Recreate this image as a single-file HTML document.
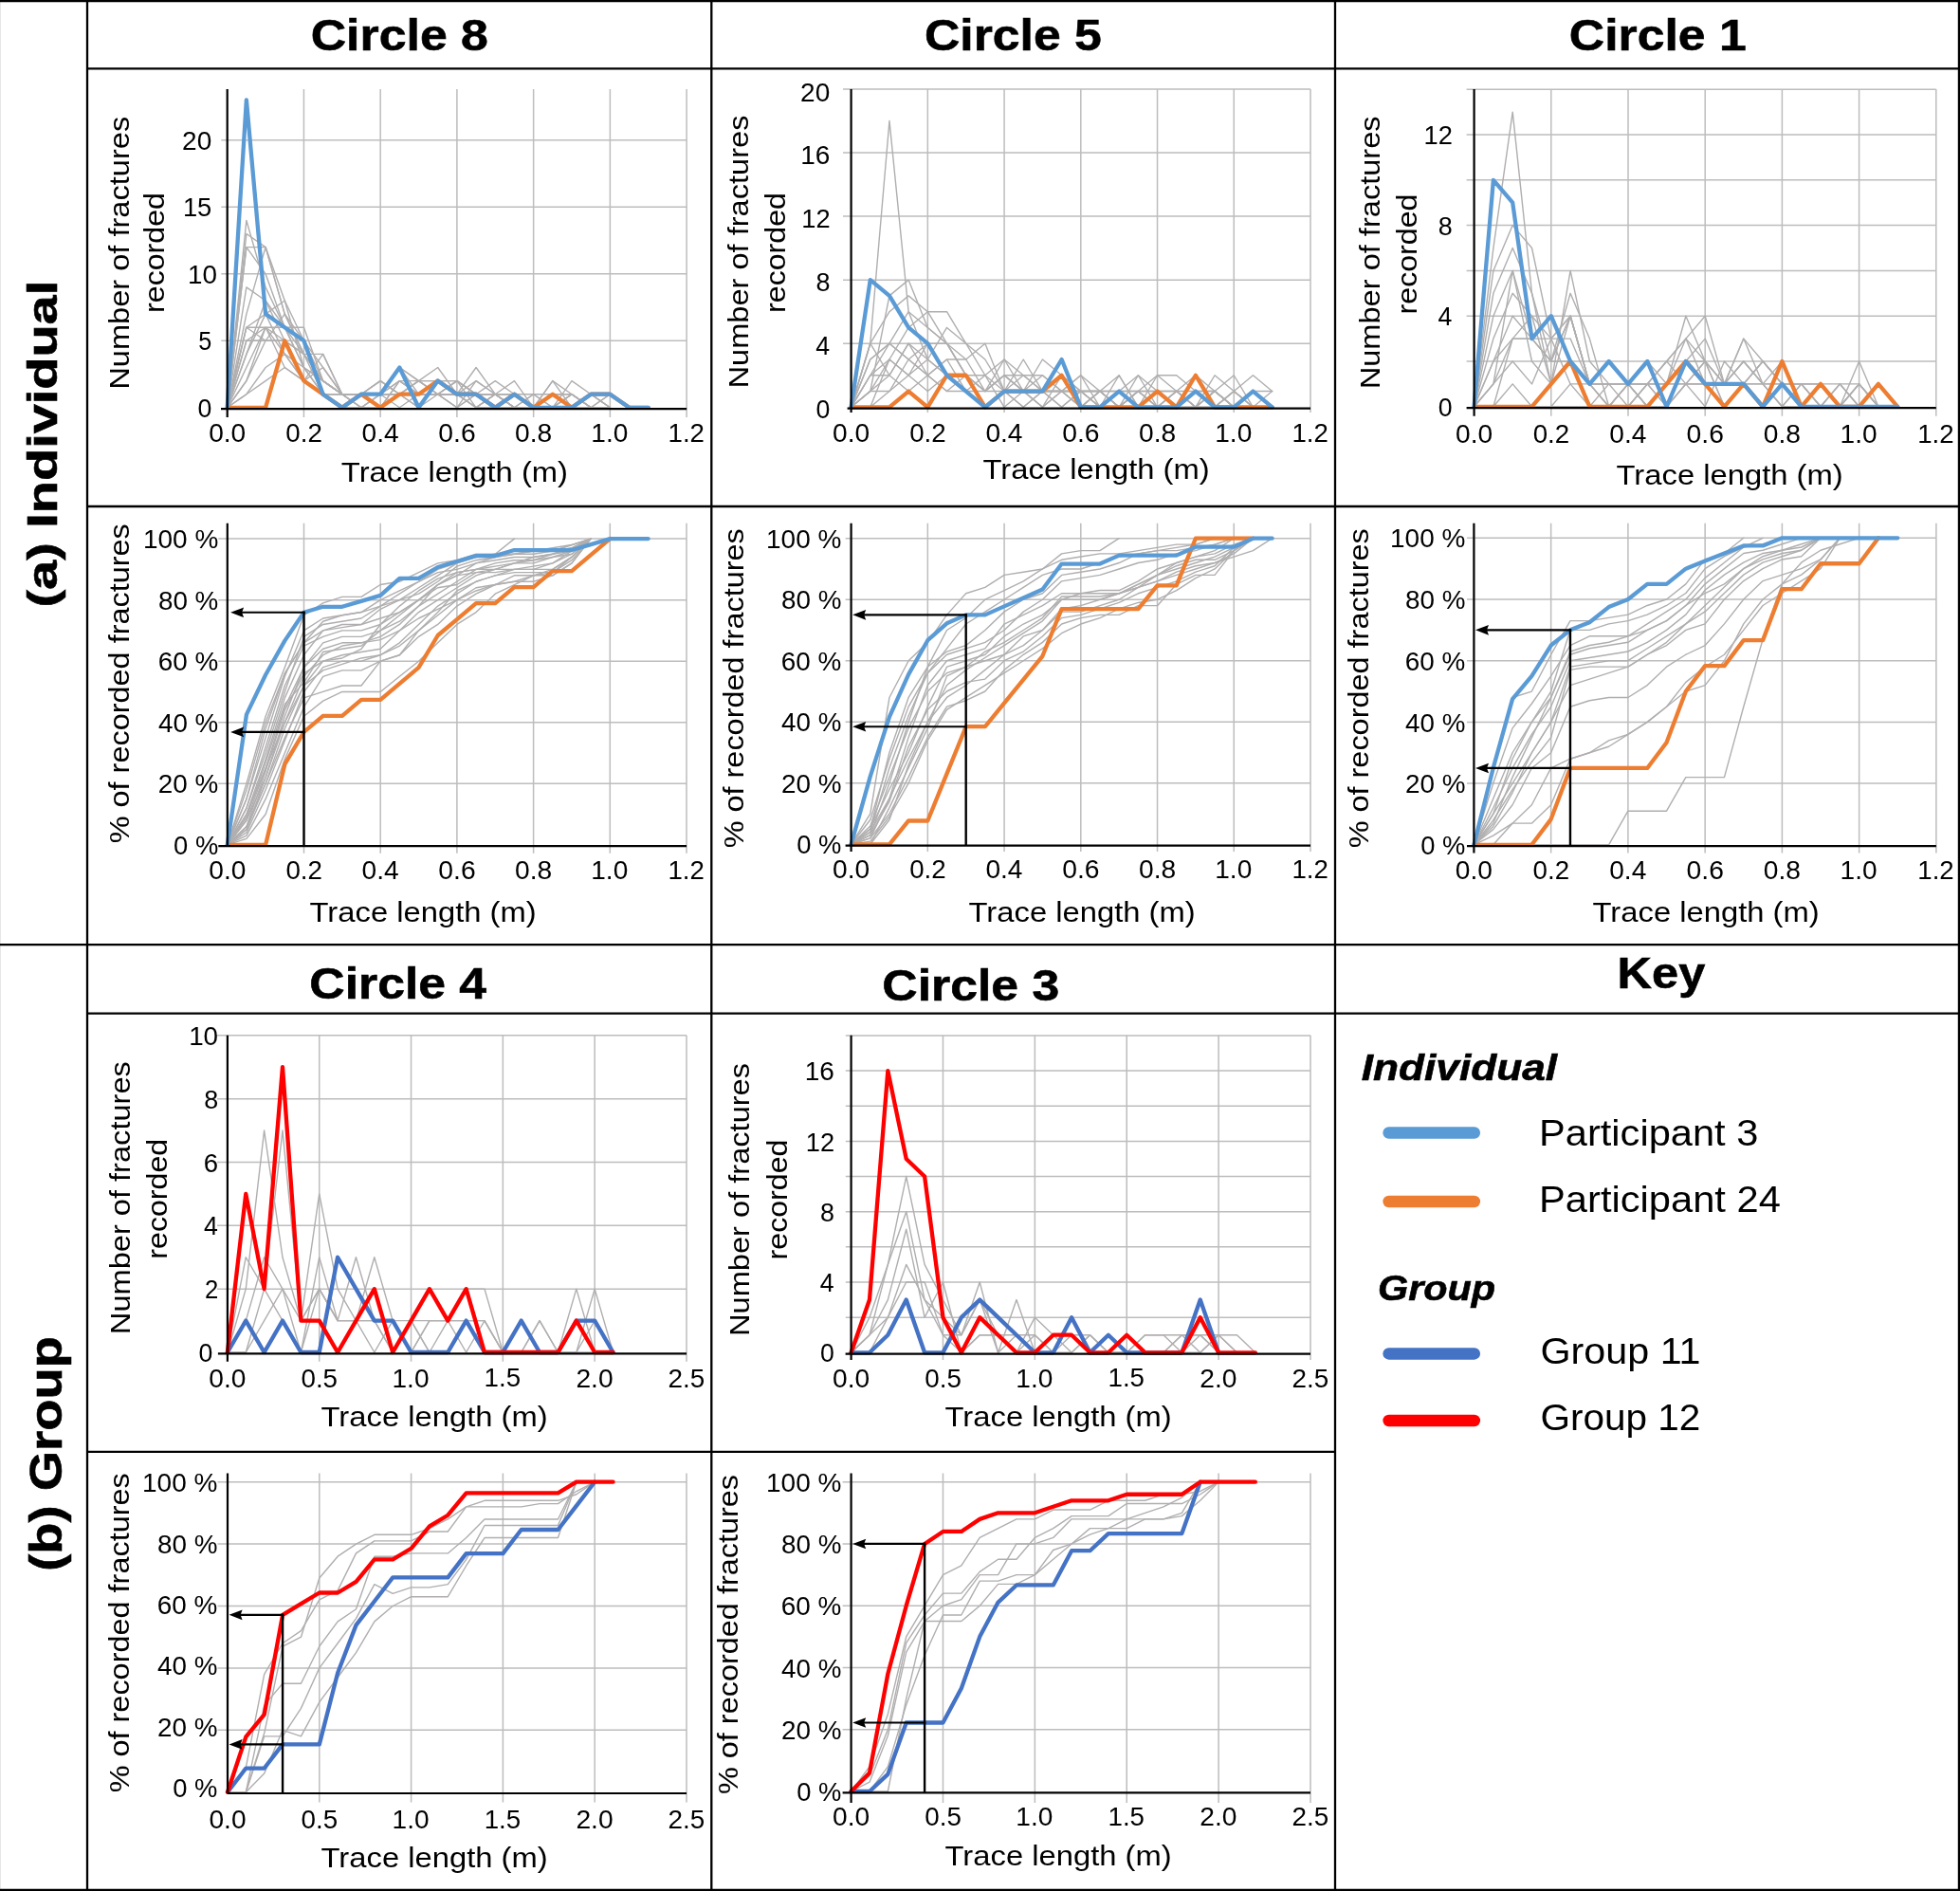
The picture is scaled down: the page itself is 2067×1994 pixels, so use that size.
<!DOCTYPE html>
<html><head><meta charset="utf-8"><title>Fracture trace length figure</title>
<style>html,body{margin:0;padding:0;background:#fff;overflow:hidden;}svg{display:block;will-change:transform;}text{font-family:"Liberation Sans", sans-serif;}</style>
</head><body>
<svg width="2067" height="1994" viewBox="0 0 2067 1994" font-family='"Liberation Sans", sans-serif' fill="#000"><rect x="0" y="0" width="2067" height="1994" fill="#fff"/>
<line x1="0.5" y1="0" x2="0.5" y2="1994" stroke="#e6e6e6" stroke-width="1" stroke-linecap="butt"/>
<line x1="0" y1="1" x2="2067" y2="1" stroke="#000" stroke-width="2.6" stroke-linecap="butt"/>
<line x1="0" y1="1993" x2="2067" y2="1993" stroke="#000" stroke-width="2.6" stroke-linecap="butt"/>
<line x1="2066" y1="0" x2="2066" y2="1994" stroke="#000" stroke-width="2.4" stroke-linecap="butt"/>
<line x1="92" y1="0" x2="92" y2="1994" stroke="#000" stroke-width="2.3" stroke-linecap="butt"/>
<line x1="750.3" y1="0" x2="750.3" y2="1994" stroke="#000" stroke-width="2.3" stroke-linecap="butt"/>
<line x1="1408" y1="0" x2="1408" y2="1994" stroke="#000" stroke-width="2.3" stroke-linecap="butt"/>
<line x1="92" y1="72.3" x2="2067" y2="72.3" stroke="#000" stroke-width="2.3" stroke-linecap="butt"/>
<line x1="92" y1="534" x2="2067" y2="534" stroke="#000" stroke-width="2.3" stroke-linecap="butt"/>
<line x1="0" y1="996.2" x2="2067" y2="996.2" stroke="#000" stroke-width="2.3" stroke-linecap="butt"/>
<line x1="92" y1="1068.7" x2="2067" y2="1068.7" stroke="#000" stroke-width="2.3" stroke-linecap="butt"/>
<line x1="92" y1="1530.8" x2="1408" y2="1530.8" stroke="#000" stroke-width="2.3" stroke-linecap="butt"/>
<line x1="233.3" y1="359.3" x2="724.1" y2="359.3" stroke="#bdbdbd" stroke-width="1.5" stroke-linecap="butt"/>
<line x1="233.3" y1="288.8" x2="724.1" y2="288.8" stroke="#bdbdbd" stroke-width="1.5" stroke-linecap="butt"/>
<line x1="233.3" y1="218.3" x2="724.1" y2="218.3" stroke="#bdbdbd" stroke-width="1.5" stroke-linecap="butt"/>
<line x1="233.3" y1="147.8" x2="724.1" y2="147.8" stroke="#bdbdbd" stroke-width="1.5" stroke-linecap="butt"/>
<line x1="320.43" y1="94" x2="320.43" y2="440.1" stroke="#bdbdbd" stroke-width="1.5" stroke-linecap="butt"/>
<line x1="401.17" y1="94" x2="401.17" y2="440.1" stroke="#bdbdbd" stroke-width="1.5" stroke-linecap="butt"/>
<line x1="481.9" y1="94" x2="481.9" y2="440.1" stroke="#bdbdbd" stroke-width="1.5" stroke-linecap="butt"/>
<line x1="562.63" y1="94" x2="562.63" y2="440.1" stroke="#bdbdbd" stroke-width="1.5" stroke-linecap="butt"/>
<line x1="643.37" y1="94" x2="643.37" y2="440.1" stroke="#bdbdbd" stroke-width="1.5" stroke-linecap="butt"/>
<line x1="724.1" y1="94" x2="724.1" y2="440.1" stroke="#bdbdbd" stroke-width="1.5" stroke-linecap="butt"/>
<polyline points="239.7,429.8 259.88,232.4 280.07,302.9 300.25,345.2 320.43,373.4 340.62,401.6 360.8,415.7 380.98,415.7 401.17,401.6 421.35,415.7 441.53,415.7 461.72,415.7 481.9,429.8 502.08,415.7 522.27,429.8 542.45,429.8 562.63,429.8 582.82,429.8 603,415.7 623.18,429.8 643.37,415.7 663.55,429.8" fill="none" stroke="#b0aeae" stroke-width="1.4" stroke-linejoin="round" stroke-linecap="round"/>
<polyline points="239.7,429.8 259.88,246.5 280.07,260.6 300.25,317 320.43,387.5 340.62,415.7 360.8,429.8 380.98,415.7 401.17,429.8 421.35,401.6 441.53,415.7 461.72,415.7 481.9,401.6 502.08,429.8 522.27,415.7 542.45,415.7 562.63,429.8 582.82,415.7 603,429.8 623.18,415.7 643.37,429.8" fill="none" stroke="#b0aeae" stroke-width="1.4" stroke-linejoin="round" stroke-linecap="round"/>
<polyline points="239.7,429.8 259.88,260.6 280.07,260.6 300.25,331.1 320.43,359.3 340.62,387.5 360.8,415.7 380.98,429.8 401.17,415.7 421.35,387.5 441.53,401.6 461.72,415.7 481.9,415.7 502.08,429.8 522.27,415.7 542.45,429.8 562.63,429.8 582.82,401.6 603,415.7 623.18,429.8 643.37,429.8" fill="none" stroke="#b0aeae" stroke-width="1.4" stroke-linejoin="round" stroke-linecap="round"/>
<polyline points="239.7,429.8 259.88,260.6 280.07,288.8 300.25,345.2 320.43,345.2 340.62,401.6 360.8,415.7 380.98,415.7 401.17,415.7 421.35,415.7 441.53,401.6 461.72,387.5 481.9,415.7 502.08,415.7 522.27,401.6 542.45,415.7 562.63,429.8 582.82,429.8 603,415.7 623.18,429.8 643.37,415.7 663.55,429.8" fill="none" stroke="#b0aeae" stroke-width="1.4" stroke-linejoin="round" stroke-linecap="round"/>
<polyline points="239.7,429.8 259.88,302.9 280.07,317 300.25,359.3 320.43,373.4 340.62,373.4 360.8,415.7 380.98,429.8 401.17,429.8 421.35,401.6 441.53,401.6 461.72,401.6 481.9,415.7 502.08,387.5 522.27,415.7 542.45,415.7 562.63,429.8 582.82,415.7 603,429.8 623.18,415.7 643.37,429.8" fill="none" stroke="#b0aeae" stroke-width="1.4" stroke-linejoin="round" stroke-linecap="round"/>
<polyline points="239.7,429.8 259.88,345.2 280.07,331.1 300.25,317 320.43,359.3 340.62,401.6 360.8,415.7 380.98,415.7 401.17,415.7 421.35,387.5 441.53,415.7 461.72,401.6 481.9,401.6 502.08,415.7 522.27,415.7 542.45,401.6 562.63,429.8 582.82,429.8 603,401.6 623.18,415.7 643.37,429.8" fill="none" stroke="#b0aeae" stroke-width="1.4" stroke-linejoin="round" stroke-linecap="round"/>
<polyline points="239.7,429.8 259.88,345.2 280.07,345.2 300.25,359.3 320.43,401.6 340.62,415.7 360.8,429.8 380.98,415.7 401.17,401.6 421.35,415.7 441.53,429.8 461.72,401.6 481.9,401.6 502.08,415.7 522.27,429.8 542.45,415.7 562.63,429.8 582.82,415.7 603,415.7 623.18,429.8 643.37,429.8" fill="none" stroke="#b0aeae" stroke-width="1.4" stroke-linejoin="round" stroke-linecap="round"/>
<polyline points="239.7,429.8 259.88,359.3 280.07,345.2 300.25,373.4 320.43,387.5 340.62,401.6 360.8,415.7 380.98,415.7 401.17,415.7 421.35,401.6 441.53,415.7 461.72,415.7 481.9,429.8 502.08,401.6 522.27,415.7 542.45,429.8 562.63,415.7 582.82,415.7 603,429.8 623.18,429.8" fill="none" stroke="#b0aeae" stroke-width="1.4" stroke-linejoin="round" stroke-linecap="round"/>
<polyline points="239.7,429.8 259.88,359.3 280.07,359.3 300.25,359.3 320.43,401.6 340.62,415.7 360.8,429.8 380.98,429.8 401.17,429.8 421.35,415.7 441.53,415.7 461.72,415.7 481.9,401.6 502.08,415.7 522.27,415.7 542.45,429.8 562.63,429.8 582.82,429.8 603,415.7 623.18,429.8" fill="none" stroke="#b0aeae" stroke-width="1.4" stroke-linejoin="round" stroke-linecap="round"/>
<polyline points="239.7,429.8 259.88,373.4 280.07,331.1 300.25,373.4 320.43,401.6 340.62,387.5 360.8,415.7 380.98,415.7 401.17,415.7 421.35,415.7 441.53,401.6 461.72,415.7 481.9,415.7 502.08,429.8 522.27,429.8 542.45,415.7 562.63,429.8 582.82,429.8 603,429.8 623.18,415.7 643.37,429.8" fill="none" stroke="#b0aeae" stroke-width="1.4" stroke-linejoin="round" stroke-linecap="round"/>
<polyline points="239.7,429.8 259.88,387.5 280.07,345.2 300.25,345.2 320.43,387.5 340.62,415.7 360.8,415.7 380.98,429.8 401.17,415.7 421.35,429.8 441.53,415.7 461.72,401.6 481.9,415.7 502.08,415.7 522.27,415.7 542.45,429.8 562.63,429.8 582.82,401.6 603,429.8 623.18,429.8" fill="none" stroke="#b0aeae" stroke-width="1.4" stroke-linejoin="round" stroke-linecap="round"/>
<polyline points="239.7,429.8 259.88,401.6 280.07,359.3 300.25,359.3 320.43,373.4 340.62,401.6 360.8,415.7 380.98,415.7 401.17,429.8 421.35,415.7 441.53,401.6 461.72,415.7 481.9,429.8 502.08,415.7 522.27,429.8 542.45,415.7 562.63,415.7 582.82,429.8" fill="none" stroke="#b0aeae" stroke-width="1.4" stroke-linejoin="round" stroke-linecap="round"/>
<polyline points="239.7,429.8 259.88,415.7 280.07,387.5 300.25,373.4 320.43,401.6 340.62,415.7 360.8,415.7 380.98,415.7 401.17,415.7 421.35,401.6 441.53,415.7 461.72,415.7 481.9,415.7 502.08,429.8 522.27,415.7 542.45,429.8 562.63,429.8 582.82,415.7 603,429.8" fill="none" stroke="#b0aeae" stroke-width="1.4" stroke-linejoin="round" stroke-linecap="round"/>
<polyline points="239.7,429.8 259.88,415.7 280.07,401.6 300.25,387.5 320.43,401.6 340.62,415.7 360.8,429.8 380.98,415.7 401.17,415.7 421.35,415.7 441.53,415.7 461.72,415.7 481.9,415.7 502.08,415.7 522.27,415.7 542.45,415.7 562.63,429.8 582.82,415.7 603,429.8" fill="none" stroke="#b0aeae" stroke-width="1.4" stroke-linejoin="round" stroke-linecap="round"/>
<polyline points="239.7,429.8 259.88,331.1 280.07,260.6 300.25,331.1 320.43,373.4 340.62,401.6 360.8,415.7 380.98,415.7 401.17,401.6 421.35,415.7 441.53,415.7 461.72,415.7 481.9,415.7 502.08,415.7 522.27,429.8 542.45,415.7 562.63,429.8 582.82,415.7 603,415.7 623.18,429.8" fill="none" stroke="#b0aeae" stroke-width="1.4" stroke-linejoin="round" stroke-linecap="round"/>
<polyline points="239.7,429.8 259.88,345.2 280.07,359.3 300.25,331.1 320.43,373.4 340.62,415.7 360.8,415.7 380.98,415.7 401.17,415.7 421.35,387.5 441.53,401.6 461.72,401.6 481.9,415.7 502.08,401.6 522.27,415.7 542.45,429.8 562.63,429.8 582.82,429.8 603,415.7 623.18,429.8" fill="none" stroke="#b0aeae" stroke-width="1.4" stroke-linejoin="round" stroke-linecap="round"/>
<polyline points="239.7,429.8 259.88,373.4 280.07,317 300.25,345.2 320.43,387.5 340.62,401.6 360.8,415.7 380.98,429.8 401.17,415.7 421.35,415.7 441.53,415.7 461.72,415.7 481.9,401.6 502.08,415.7 522.27,429.8 542.45,429.8 562.63,415.7 582.82,429.8 603,429.8 623.18,429.8" fill="none" stroke="#b0aeae" stroke-width="1.4" stroke-linejoin="round" stroke-linecap="round"/>
<polyline points="239.7,429.8 259.88,401.6 280.07,345.2 300.25,387.5 320.43,401.6 340.62,373.4 360.8,415.7 380.98,415.7 401.17,429.8 421.35,415.7 441.53,429.8 461.72,415.7 481.9,415.7 502.08,429.8 522.27,415.7 542.45,429.8 562.63,429.8 582.82,415.7 603,429.8" fill="none" stroke="#b0aeae" stroke-width="1.4" stroke-linejoin="round" stroke-linecap="round"/>
<polyline points="239.7,429.8 259.88,429.8 280.07,429.8 300.25,359.3 320.43,401.6 340.62,415.7 360.8,429.8 380.98,415.7 401.17,429.8 421.35,415.7 441.53,415.7 461.72,401.6 481.9,415.7 502.08,415.7 522.27,429.8 542.45,415.7 562.63,429.8 582.82,415.7 603,429.8 623.18,415.7 643.37,415.7 663.55,429.8 683.73,429.8" fill="none" stroke="#ed7d31" stroke-width="4.3" stroke-linejoin="round" stroke-linecap="round"/>
<polyline points="239.7,429.8 259.88,105.5 280.07,331.1 300.25,345.2 320.43,359.3 340.62,415.7 360.8,429.8 380.98,415.7 401.17,415.7 421.35,387.5 441.53,429.8 461.72,401.6 481.9,415.7 502.08,415.7 522.27,429.8 542.45,415.7 562.63,429.8 582.82,429.8 603,429.8 623.18,415.7 643.37,415.7 663.55,429.8 683.73,429.8" fill="none" stroke="#5b9bd5" stroke-width="4.3" stroke-linejoin="round" stroke-linecap="round"/>
<line x1="239.7" y1="94" x2="239.7" y2="440.1" stroke="#000" stroke-width="2.2" stroke-linecap="butt"/>
<line x1="233" y1="431.1" x2="724.1" y2="431.1" stroke="#000" stroke-width="2.2" stroke-linecap="butt"/>
<text x="220.16" y="466.37" font-size="27.03" textLength="39.08" lengthAdjust="spacingAndGlyphs">0.0</text>
<text x="301.33" y="466.37" font-size="27.03" textLength="38.51" lengthAdjust="spacingAndGlyphs">0.2</text>
<text x="381.5" y="466.37" font-size="27.03" textLength="39.07" lengthAdjust="spacingAndGlyphs">0.4</text>
<text x="462.31" y="466.37" font-size="27.03" textLength="39.32" lengthAdjust="spacingAndGlyphs">0.6</text>
<text x="543.11" y="466.37" font-size="27.03" textLength="39.16" lengthAdjust="spacingAndGlyphs">0.8</text>
<text x="623.34" y="466.37" font-size="27.03" textLength="39.01" lengthAdjust="spacingAndGlyphs">1.0</text>
<text x="704.53" y="466.28" font-size="26.89" textLength="38.42" lengthAdjust="spacingAndGlyphs">1.2</text>
<text x="208.41" y="439.9" font-size="27.03" textLength="14.83" lengthAdjust="spacingAndGlyphs">0</text>
<text x="209.26" y="369.24" font-size="26.95" textLength="14" lengthAdjust="spacingAndGlyphs">5</text>
<text x="197.95" y="298.9" font-size="27.03" textLength="30.94" lengthAdjust="spacingAndGlyphs">10</text>
<text x="192.91" y="228.24" font-size="26.95" textLength="30.44" lengthAdjust="spacingAndGlyphs">15</text>
<text x="192.13" y="157.9" font-size="27.03" textLength="31.16" lengthAdjust="spacingAndGlyphs">20</text>
<text transform="translate(135.54,410.73) rotate(-90)" x="0" y="0" font-size="30.03" textLength="287.96" lengthAdjust="spacingAndGlyphs">Number of fractures</text>
<text transform="translate(173.04,329.94) rotate(-90)" x="0" y="0" font-size="30.03" textLength="126.82" lengthAdjust="spacingAndGlyphs">recorded</text>
<text x="359.87" y="507.85" font-size="29.59" textLength="239.15" lengthAdjust="spacingAndGlyphs">Trace length (m)</text>
<line x1="889" y1="362.22" x2="1382" y2="362.22" stroke="#bdbdbd" stroke-width="1.5" stroke-linecap="butt"/>
<line x1="889" y1="295.14" x2="1382" y2="295.14" stroke="#bdbdbd" stroke-width="1.5" stroke-linecap="butt"/>
<line x1="889" y1="228.06" x2="1382" y2="228.06" stroke="#bdbdbd" stroke-width="1.5" stroke-linecap="butt"/>
<line x1="889" y1="160.98" x2="1382" y2="160.98" stroke="#bdbdbd" stroke-width="1.5" stroke-linecap="butt"/>
<line x1="889" y1="93.9" x2="1382" y2="93.9" stroke="#bdbdbd" stroke-width="1.5" stroke-linecap="butt"/>
<line x1="978.33" y1="93.9" x2="978.33" y2="435" stroke="#bdbdbd" stroke-width="1.5" stroke-linecap="butt"/>
<line x1="1059.07" y1="93.9" x2="1059.07" y2="435" stroke="#bdbdbd" stroke-width="1.5" stroke-linecap="butt"/>
<line x1="1139.8" y1="93.9" x2="1139.8" y2="435" stroke="#bdbdbd" stroke-width="1.5" stroke-linecap="butt"/>
<line x1="1220.53" y1="93.9" x2="1220.53" y2="435" stroke="#bdbdbd" stroke-width="1.5" stroke-linecap="butt"/>
<line x1="1301.27" y1="93.9" x2="1301.27" y2="435" stroke="#bdbdbd" stroke-width="1.5" stroke-linecap="butt"/>
<line x1="1382" y1="93.9" x2="1382" y2="435" stroke="#bdbdbd" stroke-width="1.5" stroke-linecap="butt"/>
<polyline points="897.6,429.3 917.78,362.22 937.97,127.44 958.15,328.68 978.33,378.99 998.52,395.76 1018.7,412.53 1038.88,412.53 1059.07,395.76 1079.25,412.53 1099.43,412.53 1119.62,412.53 1139.8,429.3 1159.98,412.53 1180.17,429.3 1200.35,412.53 1220.53,412.53 1240.72,429.3 1260.9,412.53 1281.08,429.3 1301.27,412.53 1321.45,429.3 1341.63,412.53" fill="none" stroke="#b0aeae" stroke-width="1.4" stroke-linejoin="round" stroke-linecap="round"/>
<polyline points="897.6,429.3 917.78,412.53 937.97,311.91 958.15,295.14 978.33,345.45 998.52,362.22 1018.7,395.76 1038.88,412.53 1059.07,378.99 1079.25,395.76 1099.43,412.53 1119.62,412.53 1139.8,395.76 1159.98,412.53 1180.17,429.3 1200.35,395.76 1220.53,429.3 1240.72,412.53 1260.9,429.3 1281.08,412.53 1301.27,429.3 1321.45,412.53 1341.63,429.3" fill="none" stroke="#b0aeae" stroke-width="1.4" stroke-linejoin="round" stroke-linecap="round"/>
<polyline points="897.6,429.3 917.78,362.22 937.97,328.68 958.15,311.91 978.33,328.68 998.52,328.68 1018.7,362.22 1038.88,395.76 1059.07,378.99 1079.25,412.53 1099.43,378.99 1119.62,395.76 1139.8,412.53 1159.98,412.53 1180.17,395.76 1200.35,429.3 1220.53,395.76 1240.72,395.76 1260.9,412.53 1281.08,412.53 1301.27,395.76 1321.45,429.3" fill="none" stroke="#b0aeae" stroke-width="1.4" stroke-linejoin="round" stroke-linecap="round"/>
<polyline points="897.6,429.3 917.78,378.99 937.97,362.22 958.15,328.68 978.33,345.45 998.52,362.22 1018.7,378.99 1038.88,362.22 1059.07,412.53 1079.25,378.99 1099.43,412.53 1119.62,412.53 1139.8,395.76 1159.98,429.3 1180.17,412.53 1200.35,412.53 1220.53,412.53 1240.72,412.53 1260.9,429.3 1281.08,395.76 1301.27,412.53 1321.45,395.76 1341.63,412.53" fill="none" stroke="#b0aeae" stroke-width="1.4" stroke-linejoin="round" stroke-linecap="round"/>
<polyline points="897.6,429.3 917.78,412.53 937.97,378.99 958.15,345.45 978.33,328.68 998.52,362.22 1018.7,395.76 1038.88,412.53 1059.07,395.76 1079.25,395.76 1099.43,395.76 1119.62,412.53 1139.8,412.53 1159.98,412.53 1180.17,412.53 1200.35,395.76 1220.53,412.53 1240.72,429.3 1260.9,412.53 1281.08,412.53 1301.27,429.3 1321.45,412.53 1341.63,429.3" fill="none" stroke="#b0aeae" stroke-width="1.4" stroke-linejoin="round" stroke-linecap="round"/>
<polyline points="897.6,429.3 917.78,362.22 937.97,395.76 958.15,362.22 978.33,378.99 998.52,345.45 1018.7,362.22 1038.88,378.99 1059.07,412.53 1079.25,412.53 1099.43,429.3 1119.62,395.76 1139.8,412.53 1159.98,429.3 1180.17,429.3 1200.35,412.53 1220.53,395.76 1240.72,412.53 1260.9,412.53 1281.08,429.3 1301.27,412.53 1321.45,429.3" fill="none" stroke="#b0aeae" stroke-width="1.4" stroke-linejoin="round" stroke-linecap="round"/>
<polyline points="897.6,429.3 917.78,395.76 937.97,362.22 958.15,378.99 978.33,362.22 998.52,362.22 1018.7,395.76 1038.88,412.53 1059.07,395.76 1079.25,412.53 1099.43,395.76 1119.62,412.53 1139.8,412.53 1159.98,412.53 1180.17,429.3 1200.35,412.53 1220.53,429.3 1240.72,412.53 1260.9,395.76 1281.08,412.53 1301.27,429.3 1321.45,412.53 1341.63,412.53" fill="none" stroke="#b0aeae" stroke-width="1.4" stroke-linejoin="round" stroke-linecap="round"/>
<polyline points="897.6,429.3 917.78,412.53 937.97,395.76 958.15,362.22 978.33,395.76 998.52,378.99 1018.7,378.99 1038.88,412.53 1059.07,412.53 1079.25,429.3 1099.43,412.53 1119.62,395.76 1139.8,429.3 1159.98,412.53 1180.17,412.53 1200.35,429.3 1220.53,412.53 1240.72,429.3 1260.9,412.53 1281.08,429.3 1301.27,412.53 1321.45,429.3" fill="none" stroke="#b0aeae" stroke-width="1.4" stroke-linejoin="round" stroke-linecap="round"/>
<polyline points="897.6,429.3 917.78,429.3 937.97,378.99 958.15,395.76 978.33,378.99 998.52,395.76 1018.7,395.76 1038.88,395.76 1059.07,412.53 1079.25,395.76 1099.43,412.53 1119.62,412.53 1139.8,412.53 1159.98,429.3 1180.17,412.53 1200.35,412.53 1220.53,429.3 1240.72,412.53 1260.9,429.3 1281.08,412.53 1301.27,429.3 1321.45,412.53" fill="none" stroke="#b0aeae" stroke-width="1.4" stroke-linejoin="round" stroke-linecap="round"/>
<polyline points="897.6,429.3 917.78,378.99 937.97,362.22 958.15,378.99 978.33,395.76 998.52,378.99 1018.7,412.53 1038.88,429.3 1059.07,412.53 1079.25,412.53 1099.43,429.3 1119.62,412.53 1139.8,429.3 1159.98,412.53 1180.17,429.3 1200.35,429.3 1220.53,412.53 1240.72,429.3 1260.9,429.3 1281.08,412.53 1301.27,429.3" fill="none" stroke="#b0aeae" stroke-width="1.4" stroke-linejoin="round" stroke-linecap="round"/>
<polyline points="897.6,429.3 917.78,412.53 937.97,412.53 958.15,395.76 978.33,362.22 998.52,395.76 1018.7,412.53 1038.88,395.76 1059.07,429.3 1079.25,412.53 1099.43,412.53 1119.62,429.3 1139.8,412.53 1159.98,429.3 1180.17,395.76 1200.35,429.3 1220.53,429.3 1240.72,412.53 1260.9,429.3 1281.08,429.3 1301.27,412.53 1321.45,429.3" fill="none" stroke="#b0aeae" stroke-width="1.4" stroke-linejoin="round" stroke-linecap="round"/>
<polyline points="897.6,429.3 917.78,395.76 937.97,378.99 958.15,395.76 978.33,412.53 998.52,395.76 1018.7,412.53 1038.88,429.3 1059.07,412.53 1079.25,412.53 1099.43,412.53 1119.62,429.3 1139.8,412.53 1159.98,412.53 1180.17,429.3 1200.35,412.53 1220.53,429.3 1240.72,429.3 1260.9,412.53 1281.08,429.3" fill="none" stroke="#b0aeae" stroke-width="1.4" stroke-linejoin="round" stroke-linecap="round"/>
<polyline points="897.6,429.3 917.78,429.3 937.97,412.53 958.15,378.99 978.33,395.76 998.52,412.53 1018.7,395.76 1038.88,412.53 1059.07,395.76 1079.25,412.53 1099.43,429.3 1119.62,412.53 1139.8,412.53 1159.98,429.3 1180.17,412.53 1200.35,429.3 1220.53,412.53 1240.72,412.53 1260.9,429.3 1281.08,429.3 1301.27,429.3 1321.45,412.53" fill="none" stroke="#b0aeae" stroke-width="1.4" stroke-linejoin="round" stroke-linecap="round"/>
<polyline points="897.6,429.3 917.78,395.76 937.97,395.76 958.15,412.53 978.33,395.76 998.52,412.53 1018.7,412.53 1038.88,429.3 1059.07,412.53 1079.25,429.3 1099.43,412.53 1119.62,412.53 1139.8,429.3 1159.98,412.53 1180.17,429.3 1200.35,412.53 1220.53,429.3 1240.72,429.3 1260.9,429.3 1281.08,412.53 1301.27,429.3" fill="none" stroke="#b0aeae" stroke-width="1.4" stroke-linejoin="round" stroke-linecap="round"/>
<polyline points="897.6,429.3 917.78,429.3 937.97,429.3 958.15,412.53 978.33,429.3 998.52,395.76 1018.7,395.76 1038.88,429.3 1059.07,412.53 1079.25,412.53 1099.43,412.53 1119.62,395.76 1139.8,429.3 1159.98,429.3 1180.17,429.3 1200.35,429.3 1220.53,412.53 1240.72,429.3 1260.9,395.76 1281.08,429.3 1301.27,429.3 1321.45,429.3 1341.63,429.3" fill="none" stroke="#ed7d31" stroke-width="4.3" stroke-linejoin="round" stroke-linecap="round"/>
<polyline points="897.6,429.3 917.78,295.14 937.97,311.91 958.15,345.45 978.33,362.22 998.52,395.76 1018.7,412.53 1038.88,429.3 1059.07,412.53 1079.25,412.53 1099.43,412.53 1119.62,378.99 1139.8,429.3 1159.98,429.3 1180.17,412.53 1200.35,429.3 1220.53,429.3 1240.72,429.3 1260.9,412.53 1281.08,429.3 1301.27,429.3 1321.45,412.53 1341.63,429.3" fill="none" stroke="#5b9bd5" stroke-width="4.3" stroke-linejoin="round" stroke-linecap="round"/>
<line x1="897.6" y1="93.9" x2="897.6" y2="435" stroke="#000" stroke-width="2.2" stroke-linecap="butt"/>
<line x1="893.6" y1="430.6" x2="1382" y2="430.6" stroke="#000" stroke-width="2.2" stroke-linecap="butt"/>
<text x="878.06" y="465.77" font-size="27.03" textLength="39.08" lengthAdjust="spacingAndGlyphs">0.0</text>
<text x="959.23" y="465.77" font-size="27.03" textLength="38.51" lengthAdjust="spacingAndGlyphs">0.2</text>
<text x="1039.4" y="465.77" font-size="27.03" textLength="39.07" lengthAdjust="spacingAndGlyphs">0.4</text>
<text x="1120.21" y="465.77" font-size="27.03" textLength="39.32" lengthAdjust="spacingAndGlyphs">0.6</text>
<text x="1201.01" y="465.77" font-size="27.03" textLength="39.16" lengthAdjust="spacingAndGlyphs">0.8</text>
<text x="1281.24" y="465.77" font-size="27.03" textLength="39.01" lengthAdjust="spacingAndGlyphs">1.0</text>
<text x="1362.43" y="465.68" font-size="26.89" textLength="38.42" lengthAdjust="spacingAndGlyphs">1.2</text>
<text x="860.41" y="440.9" font-size="27.03" textLength="14.83" lengthAdjust="spacingAndGlyphs">0</text>
<text x="860.15" y="373.94" font-size="26.81" textLength="14.83" lengthAdjust="spacingAndGlyphs">4</text>
<text x="860.38" y="307.14" font-size="27.03" textLength="14.99" lengthAdjust="spacingAndGlyphs">8</text>
<text x="845.24" y="240.35" font-size="26.89" textLength="30.33" lengthAdjust="spacingAndGlyphs">12</text>
<text x="844.24" y="173.38" font-size="27.03" textLength="31.19" lengthAdjust="spacingAndGlyphs">16</text>
<text x="844.13" y="106.5" font-size="27.03" textLength="31.16" lengthAdjust="spacingAndGlyphs">20</text>
<text transform="translate(789.34,409.53) rotate(-90)" x="0" y="0" font-size="30.03" textLength="287.96" lengthAdjust="spacingAndGlyphs">Number of fractures</text>
<text transform="translate(827.94,329.94) rotate(-90)" x="0" y="0" font-size="30.03" textLength="126.82" lengthAdjust="spacingAndGlyphs">recorded</text>
<text x="1036.57" y="504.75" font-size="29.59" textLength="239.15" lengthAdjust="spacingAndGlyphs">Trace length (m)</text>
<line x1="1546.6" y1="381" x2="2041.8" y2="381" stroke="#bdbdbd" stroke-width="1.5" stroke-linecap="butt"/>
<line x1="1546.6" y1="333.2" x2="2041.8" y2="333.2" stroke="#bdbdbd" stroke-width="1.5" stroke-linecap="butt"/>
<line x1="1546.6" y1="285.4" x2="2041.8" y2="285.4" stroke="#bdbdbd" stroke-width="1.5" stroke-linecap="butt"/>
<line x1="1546.6" y1="237.6" x2="2041.8" y2="237.6" stroke="#bdbdbd" stroke-width="1.5" stroke-linecap="butt"/>
<line x1="1546.6" y1="189.8" x2="2041.8" y2="189.8" stroke="#bdbdbd" stroke-width="1.5" stroke-linecap="butt"/>
<line x1="1546.6" y1="142" x2="2041.8" y2="142" stroke="#bdbdbd" stroke-width="1.5" stroke-linecap="butt"/>
<line x1="1546.6" y1="94.2" x2="2041.8" y2="94.2" stroke="#bdbdbd" stroke-width="1.5" stroke-linecap="butt"/>
<line x1="1635.8" y1="93.9" x2="1635.8" y2="438.8" stroke="#bdbdbd" stroke-width="1.5" stroke-linecap="butt"/>
<line x1="1717" y1="93.9" x2="1717" y2="438.8" stroke="#bdbdbd" stroke-width="1.5" stroke-linecap="butt"/>
<line x1="1798.2" y1="93.9" x2="1798.2" y2="438.8" stroke="#bdbdbd" stroke-width="1.5" stroke-linecap="butt"/>
<line x1="1879.4" y1="93.9" x2="1879.4" y2="438.8" stroke="#bdbdbd" stroke-width="1.5" stroke-linecap="butt"/>
<line x1="1960.6" y1="93.9" x2="1960.6" y2="438.8" stroke="#bdbdbd" stroke-width="1.5" stroke-linecap="butt"/>
<line x1="2041.8" y1="93.9" x2="2041.8" y2="438.8" stroke="#bdbdbd" stroke-width="1.5" stroke-linecap="butt"/>
<polyline points="1554.6,428.8 1574.9,261.5 1595.2,118.1 1615.5,309.3 1635.8,381 1656.1,333.2 1676.4,404.9 1696.7,404.9 1717,404.9 1737.3,428.8 1757.6,404.9 1777.9,333.2 1798.2,381 1818.5,404.9 1838.8,404.9 1859.1,428.8 1879.4,404.9 1899.7,428.8 1920,404.9 1940.3,428.8 1960.6,404.9 1980.9,428.8" fill="none" stroke="#b0aeae" stroke-width="1.4" stroke-linejoin="round" stroke-linecap="round"/>
<polyline points="1554.6,428.8 1574.9,285.4 1595.2,237.6 1615.5,261.5 1635.8,357.1 1656.1,333.2 1676.4,404.9 1696.7,404.9 1717,404.9 1737.3,404.9 1757.6,381 1777.9,357.1 1798.2,333.2 1818.5,404.9 1838.8,357.1 1859.1,381 1879.4,404.9 1899.7,428.8 1920,404.9 1940.3,428.8 1960.6,381 1980.9,428.8" fill="none" stroke="#b0aeae" stroke-width="1.4" stroke-linejoin="round" stroke-linecap="round"/>
<polyline points="1554.6,428.8 1574.9,309.3 1595.2,261.5 1615.5,309.3 1635.8,404.9 1656.1,285.4 1676.4,381 1696.7,404.9 1717,404.9 1737.3,404.9 1757.6,404.9 1777.9,381 1798.2,357.1 1818.5,404.9 1838.8,381 1859.1,404.9 1879.4,404.9 1899.7,404.9 1920,428.8 1940.3,404.9 1960.6,404.9 1980.9,428.8" fill="none" stroke="#b0aeae" stroke-width="1.4" stroke-linejoin="round" stroke-linecap="round"/>
<polyline points="1554.6,428.8 1574.9,333.2 1595.2,285.4 1615.5,357.1 1635.8,381 1656.1,309.3 1676.4,357.1 1696.7,428.8 1717,404.9 1737.3,404.9 1757.6,381 1777.9,357.1 1798.2,381 1818.5,404.9 1838.8,404.9 1859.1,381 1879.4,404.9 1899.7,404.9 1920,428.8 1940.3,404.9 1960.6,428.8" fill="none" stroke="#b0aeae" stroke-width="1.4" stroke-linejoin="round" stroke-linecap="round"/>
<polyline points="1554.6,428.8 1574.9,357.1 1595.2,309.3 1615.5,333.2 1635.8,357.1 1656.1,333.2 1676.4,404.9 1696.7,404.9 1717,404.9 1737.3,381 1757.6,404.9 1777.9,381 1798.2,381 1818.5,404.9 1838.8,357.1 1859.1,404.9 1879.4,428.8 1899.7,404.9 1920,404.9 1940.3,428.8 1960.6,404.9 1980.9,428.8" fill="none" stroke="#b0aeae" stroke-width="1.4" stroke-linejoin="round" stroke-linecap="round"/>
<polyline points="1554.6,428.8 1574.9,381 1595.2,333.2 1615.5,357.1 1635.8,381 1656.1,333.2 1676.4,404.9 1696.7,404.9 1717,428.8 1737.3,404.9 1757.6,404.9 1777.9,404.9 1798.2,381 1818.5,428.8 1838.8,404.9 1859.1,381 1879.4,404.9 1899.7,428.8 1920,404.9 1940.3,404.9 1960.6,428.8" fill="none" stroke="#b0aeae" stroke-width="1.4" stroke-linejoin="round" stroke-linecap="round"/>
<polyline points="1554.6,428.8 1574.9,404.9 1595.2,357.1 1615.5,357.1 1635.8,357.1 1656.1,357.1 1676.4,404.9 1696.7,428.8 1717,404.9 1737.3,404.9 1757.6,404.9 1777.9,404.9 1798.2,404.9 1818.5,404.9 1838.8,381 1859.1,404.9 1879.4,404.9 1899.7,404.9 1920,428.8 1940.3,404.9 1960.6,428.8" fill="none" stroke="#b0aeae" stroke-width="1.4" stroke-linejoin="round" stroke-linecap="round"/>
<polyline points="1554.6,428.8 1574.9,404.9 1595.2,285.4 1615.5,381 1635.8,404.9 1656.1,381 1676.4,404.9 1696.7,404.9 1717,404.9 1737.3,428.8 1757.6,404.9 1777.9,381 1798.2,404.9 1818.5,404.9 1838.8,404.9 1859.1,404.9 1879.4,428.8 1899.7,428.8 1920,404.9 1940.3,428.8 1960.6,428.8" fill="none" stroke="#b0aeae" stroke-width="1.4" stroke-linejoin="round" stroke-linecap="round"/>
<polyline points="1554.6,428.8 1574.9,381 1595.2,357.1 1615.5,333.2 1635.8,404.9 1656.1,333.2 1676.4,404.9 1696.7,428.8 1717,428.8 1737.3,404.9 1757.6,428.8 1777.9,404.9 1798.2,381 1818.5,428.8 1838.8,404.9 1859.1,428.8 1879.4,404.9 1899.7,404.9 1920,404.9 1940.3,428.8" fill="none" stroke="#b0aeae" stroke-width="1.4" stroke-linejoin="round" stroke-linecap="round"/>
<polyline points="1554.6,428.8 1574.9,428.8 1595.2,357.1 1615.5,357.1 1635.8,381 1656.1,381 1676.4,428.8 1696.7,404.9 1717,404.9 1737.3,428.8 1757.6,404.9 1777.9,357.1 1798.2,404.9 1818.5,404.9 1838.8,404.9 1859.1,381 1879.4,404.9 1899.7,428.8 1920,428.8 1940.3,428.8 1960.6,404.9 1980.9,428.8" fill="none" stroke="#b0aeae" stroke-width="1.4" stroke-linejoin="round" stroke-linecap="round"/>
<polyline points="1554.6,428.8 1574.9,404.9 1595.2,381 1615.5,404.9 1635.8,357.1 1656.1,404.9 1676.4,404.9 1696.7,428.8 1717,404.9 1737.3,404.9 1757.6,381 1777.9,404.9 1798.2,404.9 1818.5,404.9 1838.8,381 1859.1,404.9 1879.4,428.8 1899.7,404.9 1920,428.8 1940.3,428.8" fill="none" stroke="#b0aeae" stroke-width="1.4" stroke-linejoin="round" stroke-linecap="round"/>
<polyline points="1554.6,428.8 1574.9,428.8 1595.2,428.8 1615.5,428.8 1635.8,428.8 1656.1,428.8 1676.4,428.8 1696.7,428.8 1717,404.9 1737.3,428.8 1757.6,428.8 1777.9,404.9 1798.2,428.8 1818.5,381 1838.8,404.9 1859.1,404.9 1879.4,381 1899.7,428.8 1920,404.9 1940.3,428.8 1960.6,404.9 1980.9,428.8" fill="none" stroke="#b0aeae" stroke-width="1.4" stroke-linejoin="round" stroke-linecap="round"/>
<polyline points="1554.6,428.8 1574.9,428.8 1595.2,404.9 1615.5,428.8 1635.8,428.8 1656.1,404.9 1676.4,428.8 1696.7,428.8 1717,428.8 1737.3,404.9 1757.6,428.8 1777.9,404.9 1798.2,404.9 1818.5,404.9 1838.8,404.9 1859.1,428.8 1879.4,404.9 1899.7,404.9 1920,404.9 1940.3,428.8" fill="none" stroke="#b0aeae" stroke-width="1.4" stroke-linejoin="round" stroke-linecap="round"/>
<polyline points="1554.6,428.8 1574.9,428.8 1595.2,428.8 1615.5,428.8 1635.8,404.9 1656.1,381 1676.4,428.8 1696.7,428.8 1717,428.8 1737.3,428.8 1757.6,404.9 1777.9,381 1798.2,404.9 1818.5,428.8 1838.8,404.9 1859.1,428.8 1879.4,381 1899.7,428.8 1920,404.9 1940.3,428.8 1960.6,428.8 1980.9,404.9 2001.2,428.8" fill="none" stroke="#ed7d31" stroke-width="4.3" stroke-linejoin="round" stroke-linecap="round"/>
<polyline points="1554.6,428.8 1574.9,189.8 1595.2,213.7 1615.5,357.1 1635.8,333.2 1656.1,381 1676.4,404.9 1696.7,381 1717,404.9 1737.3,381 1757.6,428.8 1777.9,381 1798.2,404.9 1818.5,404.9 1838.8,404.9 1859.1,428.8 1879.4,404.9 1899.7,428.8 1920,428.8 1940.3,428.8 1960.6,428.8 1980.9,428.8 2001.2,428.8" fill="none" stroke="#5b9bd5" stroke-width="4.3" stroke-linejoin="round" stroke-linecap="round"/>
<line x1="1554.6" y1="93.9" x2="1554.6" y2="438.8" stroke="#000" stroke-width="2.2" stroke-linecap="butt"/>
<line x1="1546.6" y1="430.1" x2="2041.8" y2="430.1" stroke="#000" stroke-width="2.2" stroke-linecap="butt"/>
<text x="1535.06" y="466.77" font-size="27.03" textLength="39.08" lengthAdjust="spacingAndGlyphs">0.0</text>
<text x="1616.7" y="466.77" font-size="27.03" textLength="38.51" lengthAdjust="spacingAndGlyphs">0.2</text>
<text x="1697.33" y="466.77" font-size="27.03" textLength="39.07" lengthAdjust="spacingAndGlyphs">0.4</text>
<text x="1778.61" y="466.77" font-size="27.03" textLength="39.32" lengthAdjust="spacingAndGlyphs">0.6</text>
<text x="1859.88" y="466.77" font-size="27.03" textLength="39.16" lengthAdjust="spacingAndGlyphs">0.8</text>
<text x="1940.57" y="466.77" font-size="27.03" textLength="39.01" lengthAdjust="spacingAndGlyphs">1.0</text>
<text x="2022.23" y="466.68" font-size="26.89" textLength="38.42" lengthAdjust="spacingAndGlyphs">1.2</text>
<text x="1516.81" y="438.9" font-size="27.03" textLength="14.83" lengthAdjust="spacingAndGlyphs">0</text>
<text x="1516.55" y="343.22" font-size="26.81" textLength="14.83" lengthAdjust="spacingAndGlyphs">4</text>
<text x="1516.78" y="247.7" font-size="27.03" textLength="14.99" lengthAdjust="spacingAndGlyphs">8</text>
<text x="1501.64" y="152.19" font-size="26.89" textLength="30.33" lengthAdjust="spacingAndGlyphs">12</text>
<text transform="translate(1454.74,410.33) rotate(-90)" x="0" y="0" font-size="30.03" textLength="287.96" lengthAdjust="spacingAndGlyphs">Number of fractures</text>
<text transform="translate(1494.44,331.44) rotate(-90)" x="0" y="0" font-size="30.03" textLength="126.82" lengthAdjust="spacingAndGlyphs">recorded</text>
<text x="1704.57" y="511.15" font-size="29.59" textLength="239.15" lengthAdjust="spacingAndGlyphs">Trace length (m)</text>
<line x1="230.3" y1="826.26" x2="724" y2="826.26" stroke="#bdbdbd" stroke-width="1.5" stroke-linecap="butt"/>
<line x1="230.3" y1="761.72" x2="724" y2="761.72" stroke="#bdbdbd" stroke-width="1.5" stroke-linecap="butt"/>
<line x1="230.3" y1="697.18" x2="724" y2="697.18" stroke="#bdbdbd" stroke-width="1.5" stroke-linecap="butt"/>
<line x1="230.3" y1="632.64" x2="724" y2="632.64" stroke="#bdbdbd" stroke-width="1.5" stroke-linecap="butt"/>
<line x1="230.3" y1="568.1" x2="724" y2="568.1" stroke="#bdbdbd" stroke-width="1.5" stroke-linecap="butt"/>
<line x1="320.5" y1="551.7" x2="320.5" y2="899.8" stroke="#bdbdbd" stroke-width="1.5" stroke-linecap="butt"/>
<line x1="401.2" y1="551.7" x2="401.2" y2="899.8" stroke="#bdbdbd" stroke-width="1.5" stroke-linecap="butt"/>
<line x1="481.9" y1="551.7" x2="481.9" y2="899.8" stroke="#bdbdbd" stroke-width="1.5" stroke-linecap="butt"/>
<line x1="562.6" y1="551.7" x2="562.6" y2="899.8" stroke="#bdbdbd" stroke-width="1.5" stroke-linecap="butt"/>
<line x1="643.3" y1="551.7" x2="643.3" y2="899.8" stroke="#bdbdbd" stroke-width="1.5" stroke-linecap="butt"/>
<line x1="724" y1="551.7" x2="724" y2="899.8" stroke="#bdbdbd" stroke-width="1.5" stroke-linecap="butt"/>
<polyline points="239.8,890.8 259.98,826.26 280.15,755.27 300.33,703.63 320.5,648.78 340.68,635.87 360.85,629.41 381.03,629.41 401.2,616.51 421.38,613.28 441.55,603.6 461.73,593.92 481.9,590.69 502.08,584.24 522.25,584.24 542.42,568.1" fill="none" stroke="#b0aeae" stroke-width="1.4" stroke-linejoin="round" stroke-linecap="round"/>
<polyline points="239.8,890.8 259.98,842.4 280.15,777.86 300.33,713.32 320.5,664.91 340.68,652 360.85,648.78 381.03,645.55 401.2,639.09 421.38,632.64 441.55,619.73 461.73,606.82 481.9,593.92 502.08,587.46 522.25,584.24 542.42,581.01 562.6,581.01 582.78,577.78 602.95,574.55 623.12,568.1" fill="none" stroke="#b0aeae" stroke-width="1.4" stroke-linejoin="round" stroke-linecap="round"/>
<polyline points="239.8,890.8 259.98,852.08 280.15,793.99 300.33,729.45 320.5,671.36 340.68,658.46 360.85,655.23 381.03,652 401.2,639.09 421.38,626.19 441.55,613.28 461.73,600.37 481.9,593.92 502.08,587.46 522.25,584.24 542.42,584.24 562.6,581.01 582.78,581.01 602.95,574.55 623.12,568.1" fill="none" stroke="#b0aeae" stroke-width="1.4" stroke-linejoin="round" stroke-linecap="round"/>
<polyline points="239.8,890.8 259.98,858.53 280.15,800.44 300.33,735.9 320.5,690.73 340.68,664.91 360.85,658.46 381.03,658.46 401.2,642.32 421.38,632.64 441.55,626.19 461.73,613.28 481.9,597.14 502.08,590.69 522.25,587.46 542.42,584.24 562.6,581.01 582.78,581.01 602.95,577.78 623.12,568.1" fill="none" stroke="#b0aeae" stroke-width="1.4" stroke-linejoin="round" stroke-linecap="round"/>
<polyline points="239.8,890.8 259.98,864.98 280.15,810.12 300.33,745.59 320.5,703.63 340.68,677.82 360.85,671.36 381.03,671.36 401.2,664.91 421.38,648.78 441.55,632.64 461.73,616.51 481.9,606.82 502.08,593.92 522.25,590.69 542.42,587.46 562.6,587.46 582.78,584.24 602.95,577.78 623.12,568.1" fill="none" stroke="#b0aeae" stroke-width="1.4" stroke-linejoin="round" stroke-linecap="round"/>
<polyline points="239.8,890.8 259.98,874.67 280.15,819.81 300.33,761.72 320.5,713.32 340.68,690.73 360.85,681.05 381.03,677.82 401.2,671.36 421.38,658.46 441.55,639.09 461.73,626.19 481.9,613.28 502.08,600.37 522.25,593.92 542.42,590.69 562.6,590.69 582.78,584.24 602.95,581.01 623.12,568.1" fill="none" stroke="#b0aeae" stroke-width="1.4" stroke-linejoin="round" stroke-linecap="round"/>
<polyline points="239.8,890.8 259.98,871.44 280.15,826.26 300.33,768.17 320.5,723 340.68,697.18 360.85,690.73 381.03,687.5 401.2,684.27 421.38,664.91 441.55,645.55 461.73,632.64 481.9,619.73 502.08,606.82 522.25,600.37 542.42,593.92 562.6,593.92 582.78,587.46 602.95,581.01 623.12,568.1" fill="none" stroke="#b0aeae" stroke-width="1.4" stroke-linejoin="round" stroke-linecap="round"/>
<polyline points="239.8,890.8 259.98,877.89 280.15,832.71 300.33,781.08 320.5,729.45 340.68,703.63 360.85,697.18 381.03,697.18 401.2,690.73 421.38,677.82 441.55,658.46 461.73,639.09 481.9,626.19 502.08,613.28 522.25,606.82 542.42,600.37 562.6,600.37 582.78,593.92 602.95,584.24 623.12,568.1" fill="none" stroke="#b0aeae" stroke-width="1.4" stroke-linejoin="round" stroke-linecap="round"/>
<polyline points="239.8,890.8 259.98,881.12 280.15,842.4 300.33,793.99 320.5,745.59 340.68,713.32 360.85,706.86 381.03,706.86 401.2,697.18 421.38,690.73 441.55,664.91 461.73,648.78 481.9,632.64 502.08,619.73 522.25,616.51 542.42,606.82 562.6,606.82 582.78,600.37 602.95,587.46 623.12,568.1" fill="none" stroke="#b0aeae" stroke-width="1.4" stroke-linejoin="round" stroke-linecap="round"/>
<polyline points="239.8,890.8 259.98,874.67 280.15,826.26 300.33,777.86 320.5,735.9 340.68,729.45 360.85,723 381.03,723 401.2,697.18 421.38,690.73 441.55,671.36 461.73,658.46 481.9,639.09 502.08,626.19 522.25,616.51 542.42,613.28 562.6,613.28 582.78,606.82 602.95,593.92 623.12,568.1" fill="none" stroke="#b0aeae" stroke-width="1.4" stroke-linejoin="round" stroke-linecap="round"/>
<polyline points="239.8,890.8 259.98,858.53 280.15,810.12 300.33,761.72 320.5,723 340.68,706.86 360.85,700.41 381.03,693.95 401.2,690.73 421.38,681.05 441.55,664.91 461.73,645.55 481.9,622.96 502.08,613.28 522.25,606.82 542.42,603.6 562.6,603.6 582.78,603.6 602.95,590.69 623.12,568.1" fill="none" stroke="#b0aeae" stroke-width="1.4" stroke-linejoin="round" stroke-linecap="round"/>
<polyline points="239.8,890.8 259.98,852.08 280.15,787.54 300.33,723 320.5,681.05 340.68,671.36 360.85,664.91 381.03,664.91 401.2,658.46 421.38,639.09 441.55,622.96 461.73,610.05 481.9,603.6 502.08,600.37 522.25,600.37 542.42,593.92 562.6,590.69 582.78,587.46 602.95,584.24 623.12,568.1" fill="none" stroke="#b0aeae" stroke-width="1.4" stroke-linejoin="round" stroke-linecap="round"/>
<polyline points="239.8,890.8 259.98,842.4 280.15,768.17 300.33,710.09 320.5,677.82 340.68,664.91 360.85,661.68 381.03,658.46 401.2,652 421.38,645.55 441.55,632.64 461.73,616.51 481.9,606.82 502.08,603.6 522.25,600.37 542.42,600.37 562.6,597.14 582.78,593.92 602.95,581.01 623.12,568.1" fill="none" stroke="#b0aeae" stroke-width="1.4" stroke-linejoin="round" stroke-linecap="round"/>
<polyline points="239.8,890.8 259.98,864.98 280.15,819.81 300.33,755.27 320.5,703.63 340.68,684.27 360.85,677.82 381.03,677.82 401.2,674.59 421.38,664.91 441.55,652 461.73,642.32 481.9,632.64 502.08,622.96 522.25,616.51 542.42,613.28 562.6,606.82 582.78,606.82 602.95,593.92 623.12,568.1" fill="none" stroke="#b0aeae" stroke-width="1.4" stroke-linejoin="round" stroke-linecap="round"/>
<polyline points="239.8,890.8 259.98,884.35 280.15,858.53 300.33,800.44 320.5,755.27 340.68,739.13 360.85,729.45 381.03,729.45 401.2,729.45 421.38,713.32 441.55,697.18 461.73,677.82 481.9,658.46 502.08,645.55 522.25,626.19 542.42,616.51 562.6,606.82 582.78,603.6 602.95,587.46 623.12,568.1" fill="none" stroke="#b0aeae" stroke-width="1.4" stroke-linejoin="round" stroke-linecap="round"/>
<polyline points="239.8,890.8 259.98,832.71 280.15,761.72 300.33,710.09 320.5,677.82 340.68,655.23 360.85,648.78 381.03,645.55 401.2,632.64 421.38,622.96 441.55,613.28 461.73,603.6 481.9,600.37 502.08,593.92 522.25,587.46 542.42,584.24 562.6,584.24 582.78,581.01 602.95,574.55 623.12,568.1" fill="none" stroke="#b0aeae" stroke-width="1.4" stroke-linejoin="round" stroke-linecap="round"/>
<polyline points="239.8,890.8 259.98,871.44 280.15,813.35 300.33,748.81 320.5,710.09 340.68,697.18 360.85,693.95 381.03,684.27 401.2,658.46 421.38,645.55 441.55,632.64 461.73,619.73 481.9,616.51 502.08,603.6 522.25,603.6 542.42,600.37 562.6,600.37 582.78,600.37 602.95,587.46 623.12,568.1" fill="none" stroke="#b0aeae" stroke-width="1.4" stroke-linejoin="round" stroke-linecap="round"/>
<polyline points="239.8,890.8 259.98,861.76 280.15,803.67 300.33,742.36 320.5,719.77 340.68,687.5 360.85,684.27 381.03,681.05 401.2,664.91 421.38,655.23 441.55,639.09 461.73,616.51 481.9,603.6 502.08,600.37 522.25,597.14 542.42,593.92 562.6,587.46 582.78,584.24 602.95,577.78 623.12,568.1" fill="none" stroke="#b0aeae" stroke-width="1.4" stroke-linejoin="round" stroke-linecap="round"/>
<polyline points="239.8,890.8 259.98,890.8 280.15,890.8 300.33,805.88 320.5,771.91 340.68,754.93 360.85,754.93 381.03,737.94 401.2,737.94 421.38,720.96 441.55,703.97 461.73,670.01 481.9,653.02 502.08,636.04 522.25,636.04 542.42,619.05 562.6,619.05 582.78,602.07 602.95,602.07 623.12,585.08 643.3,568.1" fill="none" stroke="#ed7d31" stroke-width="4.3" stroke-linejoin="round" stroke-linecap="round"/>
<polyline points="239.8,890.8 259.98,753.35 280.15,711.52 300.33,675.67 320.5,645.79 340.68,639.81 360.85,639.81 381.03,633.84 401.2,627.86 421.38,609.93 441.55,609.93 461.73,597.98 481.9,592 502.08,586.03 522.25,586.03 542.42,580.05 562.6,580.05 582.78,580.05 602.95,580.05 623.12,574.08 643.3,568.1 663.48,568.1 683.65,568.1" fill="none" stroke="#5b9bd5" stroke-width="4.3" stroke-linejoin="round" stroke-linecap="round"/>
<line x1="239.8" y1="551.7" x2="239.8" y2="892.1" stroke="#000" stroke-width="2.2" stroke-linecap="butt"/>
<line x1="230.3" y1="892.1" x2="724" y2="892.1" stroke="#000" stroke-width="2.2" stroke-linecap="butt"/>
<line x1="320.5" y1="892.1" x2="320.5" y2="644.57" stroke="#000" stroke-width="2.4" stroke-linecap="butt"/>
<line x1="321.7" y1="645.77" x2="251.8" y2="645.77" stroke="#000" stroke-width="2.2" stroke-linecap="butt"/>
<path d="M243.1,645.77 L257.1,640.47 L255.1,645.77 L257.1,651.07 Z" fill="#000"/>
<line x1="321.7" y1="771.92" x2="251.8" y2="771.92" stroke="#000" stroke-width="2.2" stroke-linecap="butt"/>
<path d="M243.1,771.92 L257.1,766.62 L255.1,771.92 L257.1,777.22 Z" fill="#000"/>
<text x="220.26" y="927.37" font-size="27.03" textLength="39.08" lengthAdjust="spacingAndGlyphs">0.0</text>
<text x="301.4" y="927.37" font-size="27.03" textLength="38.51" lengthAdjust="spacingAndGlyphs">0.2</text>
<text x="381.53" y="927.37" font-size="27.03" textLength="39.07" lengthAdjust="spacingAndGlyphs">0.4</text>
<text x="462.31" y="927.37" font-size="27.03" textLength="39.32" lengthAdjust="spacingAndGlyphs">0.6</text>
<text x="543.08" y="927.37" font-size="27.03" textLength="39.16" lengthAdjust="spacingAndGlyphs">0.8</text>
<text x="623.27" y="927.37" font-size="27.03" textLength="39.01" lengthAdjust="spacingAndGlyphs">1.0</text>
<text x="704.43" y="927.28" font-size="26.89" textLength="38.42" lengthAdjust="spacingAndGlyphs">1.2</text>
<text x="183.12" y="900.9" font-size="27.03" textLength="47.16" lengthAdjust="spacingAndGlyphs">0 %</text>
<text x="166.87" y="836.36" font-size="27.03" textLength="63.42" lengthAdjust="spacingAndGlyphs">20 %</text>
<text x="167.02" y="771.82" font-size="27.03" textLength="63.27" lengthAdjust="spacingAndGlyphs">40 %</text>
<text x="166.77" y="707.28" font-size="27.03" textLength="63.52" lengthAdjust="spacingAndGlyphs">60 %</text>
<text x="166.93" y="642.74" font-size="27.03" textLength="63.36" lengthAdjust="spacingAndGlyphs">80 %</text>
<text x="150.97" y="578.2" font-size="27.03" textLength="79.32" lengthAdjust="spacingAndGlyphs">100 %</text>
<text transform="translate(136.49,889.29) rotate(-90)" x="0" y="0" font-size="30.03" textLength="337.11" lengthAdjust="spacingAndGlyphs">% of recorded fractures</text>
<text x="326.57" y="972.4" font-size="29.59" textLength="239.15" lengthAdjust="spacingAndGlyphs">Trace length (m)</text>
<line x1="891.6" y1="825.78" x2="1382" y2="825.78" stroke="#bdbdbd" stroke-width="1.5" stroke-linecap="butt"/>
<line x1="891.6" y1="761.26" x2="1382" y2="761.26" stroke="#bdbdbd" stroke-width="1.5" stroke-linecap="butt"/>
<line x1="891.6" y1="696.74" x2="1382" y2="696.74" stroke="#bdbdbd" stroke-width="1.5" stroke-linecap="butt"/>
<line x1="891.6" y1="632.22" x2="1382" y2="632.22" stroke="#bdbdbd" stroke-width="1.5" stroke-linecap="butt"/>
<line x1="891.6" y1="567.7" x2="1382" y2="567.7" stroke="#bdbdbd" stroke-width="1.5" stroke-linecap="butt"/>
<line x1="978.33" y1="551.7" x2="978.33" y2="898" stroke="#bdbdbd" stroke-width="1.5" stroke-linecap="butt"/>
<line x1="1059.07" y1="551.7" x2="1059.07" y2="898" stroke="#bdbdbd" stroke-width="1.5" stroke-linecap="butt"/>
<line x1="1139.8" y1="551.7" x2="1139.8" y2="898" stroke="#bdbdbd" stroke-width="1.5" stroke-linecap="butt"/>
<line x1="1220.53" y1="551.7" x2="1220.53" y2="898" stroke="#bdbdbd" stroke-width="1.5" stroke-linecap="butt"/>
<line x1="1301.27" y1="551.7" x2="1301.27" y2="898" stroke="#bdbdbd" stroke-width="1.5" stroke-linecap="butt"/>
<line x1="1382" y1="551.7" x2="1382" y2="898" stroke="#bdbdbd" stroke-width="1.5" stroke-linecap="butt"/>
<polyline points="897.6,890.3 917.78,858.04 937.97,735.45 958.15,696.74 978.33,677.38 998.52,648.35 1018.7,625.77 1038.88,619.32 1059.07,606.41 1079.25,603.19 1099.43,599.96 1119.62,583.83 1139.8,580.6 1159.98,580.6 1180.17,567.7" fill="none" stroke="#b0aeae" stroke-width="1.4" stroke-linejoin="round" stroke-linecap="round"/>
<polyline points="897.6,890.3 917.78,874.17 937.97,793.52 958.15,735.45 978.33,703.19 998.52,664.48 1018.7,651.58 1038.88,632.22 1059.07,622.54 1079.25,612.86 1099.43,599.96 1119.62,590.28 1139.8,587.06 1159.98,583.83 1180.17,583.83 1200.35,580.6 1220.53,577.38 1240.72,574.15 1260.9,574.15 1281.08,567.7" fill="none" stroke="#b0aeae" stroke-width="1.4" stroke-linejoin="round" stroke-linecap="round"/>
<polyline points="897.6,890.3 917.78,877.4 937.97,809.65 958.15,754.81 978.33,709.64 998.52,683.84 1018.7,658.03 1038.88,645.12 1059.07,632.22 1079.25,619.32 1099.43,606.41 1119.62,599.96 1139.8,599.96 1159.98,593.51 1180.17,587.06 1200.35,583.83 1220.53,580.6 1240.72,577.38 1260.9,574.15 1281.08,567.7" fill="none" stroke="#b0aeae" stroke-width="1.4" stroke-linejoin="round" stroke-linecap="round"/>
<polyline points="897.6,890.3 917.78,880.62 937.97,825.78 958.15,761.26 978.33,703.19 998.52,687.06 1018.7,680.61 1038.88,664.48 1059.07,645.12 1079.25,632.22 1099.43,625.77 1119.62,606.41 1139.8,603.19 1159.98,599.96 1180.17,593.51 1200.35,583.83 1220.53,580.6 1240.72,580.6 1260.9,577.38 1281.08,574.15 1301.27,567.7" fill="none" stroke="#b0aeae" stroke-width="1.4" stroke-linejoin="round" stroke-linecap="round"/>
<polyline points="897.6,890.3 917.78,883.85 937.97,841.91 958.15,777.39 978.33,722.55 998.52,696.74 1018.7,690.29 1038.88,683.84 1059.07,658.03 1079.25,648.35 1099.43,638.67 1119.62,625.77 1139.8,625.77 1159.98,625.77 1180.17,625.77 1200.35,616.09 1220.53,606.41 1240.72,593.51 1260.9,587.06 1281.08,583.83 1301.27,574.15 1321.45,567.7" fill="none" stroke="#b0aeae" stroke-width="1.4" stroke-linejoin="round" stroke-linecap="round"/>
<polyline points="897.6,890.3 917.78,874.17 937.97,832.23 958.15,793.52 978.33,745.13 998.52,703.19 1018.7,696.74 1038.88,690.29 1059.07,670.93 1079.25,658.03 1099.43,648.35 1119.62,632.22 1139.8,625.77 1159.98,622.54 1180.17,622.54 1200.35,612.86 1220.53,599.96 1240.72,593.51 1260.9,587.06 1281.08,580.6 1301.27,567.7" fill="none" stroke="#b0aeae" stroke-width="1.4" stroke-linejoin="round" stroke-linecap="round"/>
<polyline points="897.6,890.3 917.78,890.3 937.97,851.59 958.15,809.65 978.33,767.71 998.52,712.87 1018.7,703.19 1038.88,687.06 1059.07,677.38 1079.25,664.48 1099.43,651.58 1119.62,628.99 1139.8,628.99 1159.98,628.99 1180.17,625.77 1200.35,619.32 1220.53,606.41 1240.72,599.96 1260.9,593.51 1281.08,587.06 1301.27,577.38 1321.45,567.7" fill="none" stroke="#b0aeae" stroke-width="1.4" stroke-linejoin="round" stroke-linecap="round"/>
<polyline points="897.6,890.3 917.78,877.4 937.97,841.91 958.15,799.97 978.33,761.26 998.52,735.45 1018.7,722.55 1038.88,706.42 1059.07,690.29 1079.25,680.61 1099.43,664.48 1119.62,641.9 1139.8,638.67 1159.98,632.22 1180.17,625.77 1200.35,616.09 1220.53,606.41 1240.72,596.73 1260.9,590.28 1281.08,590.28 1301.27,580.6 1321.45,567.7" fill="none" stroke="#b0aeae" stroke-width="1.4" stroke-linejoin="round" stroke-linecap="round"/>
<polyline points="897.6,890.3 917.78,883.85 937.97,858.04 958.15,819.33 978.33,777.39 998.52,745.13 1018.7,738.68 1038.88,729 1059.07,706.42 1079.25,690.29 1099.43,677.38 1119.62,658.03 1139.8,651.58 1159.98,648.35 1180.17,648.35 1200.35,638.67 1220.53,638.67 1240.72,616.09 1260.9,606.41 1281.08,606.41 1301.27,580.6 1321.45,567.7" fill="none" stroke="#b0aeae" stroke-width="1.4" stroke-linejoin="round" stroke-linecap="round"/>
<polyline points="897.6,890.3 917.78,870.94 937.97,819.33 958.15,767.71 978.33,729 998.52,709.64 1018.7,703.19 1038.88,696.74 1059.07,690.29 1079.25,670.93 1099.43,664.48 1119.62,645.12 1139.8,645.12 1159.98,638.67 1180.17,632.22 1200.35,619.32 1220.53,612.86 1240.72,606.41 1260.9,599.96 1281.08,593.51 1301.27,583.83 1321.45,567.7" fill="none" stroke="#b0aeae" stroke-width="1.4" stroke-linejoin="round" stroke-linecap="round"/>
<polyline points="897.6,890.3 917.78,890.3 937.97,864.49 958.15,806.42 978.33,761.26 998.52,722.55 1018.7,706.42 1038.88,693.51 1059.07,680.61 1079.25,667.71 1099.43,654.8 1119.62,632.22 1139.8,632.22 1159.98,632.22 1180.17,625.77 1200.35,619.32 1220.53,612.86 1240.72,603.19 1260.9,596.73 1281.08,593.51 1301.27,587.06 1321.45,580.6 1341.63,567.7" fill="none" stroke="#b0aeae" stroke-width="1.4" stroke-linejoin="round" stroke-linecap="round"/>
<polyline points="897.6,890.3 917.78,880.62 937.97,845.14 958.15,787.07 978.33,748.36 998.52,729 1018.7,719.32 1038.88,716.1 1059.07,696.74 1079.25,687.06 1099.43,670.93 1119.62,651.58 1139.8,648.35 1159.98,641.9 1180.17,635.45 1200.35,625.77 1220.53,619.32 1240.72,612.86 1260.9,603.19 1281.08,596.73 1301.27,577.38 1321.45,567.7" fill="none" stroke="#b0aeae" stroke-width="1.4" stroke-linejoin="round" stroke-linecap="round"/>
<polyline points="897.6,890.3 917.78,864.49 937.97,799.97 958.15,745.13 978.33,709.64 998.52,690.29 1018.7,683.84 1038.88,677.38 1059.07,664.48 1079.25,645.12 1099.43,632.22 1119.62,612.86 1139.8,609.64 1159.98,606.41 1180.17,599.96 1200.35,593.51 1220.53,590.28 1240.72,583.83 1260.9,580.6 1281.08,574.15 1301.27,567.7" fill="none" stroke="#b0aeae" stroke-width="1.4" stroke-linejoin="round" stroke-linecap="round"/>
<polyline points="897.6,890.3 917.78,887.07 937.97,861.27 958.15,825.78 978.33,780.62 998.52,748.36 1018.7,735.45 1038.88,722.55 1059.07,709.64 1079.25,696.74 1099.43,683.84 1119.62,667.71 1139.8,658.03 1159.98,651.58 1180.17,641.9 1200.35,635.45 1220.53,632.22 1240.72,622.54 1260.9,609.64 1281.08,599.96 1301.27,580.6 1321.45,567.7" fill="none" stroke="#b0aeae" stroke-width="1.4" stroke-linejoin="round" stroke-linecap="round"/>
<polyline points="897.6,890.3 917.78,890.3 937.97,890.3 958.15,865.48 978.33,865.48 998.52,815.85 1018.7,766.22 1038.88,766.22 1059.07,741.41 1079.25,716.59 1099.43,691.78 1119.62,642.15 1139.8,642.15 1159.98,642.15 1180.17,642.15 1200.35,642.15 1220.53,617.33 1240.72,617.33 1260.9,567.7 1281.08,567.7 1301.27,567.7 1321.45,567.7" fill="none" stroke="#ed7d31" stroke-width="4.3" stroke-linejoin="round" stroke-linecap="round"/>
<polyline points="897.6,890.3 917.78,818.61 937.97,755.88 958.15,711.08 978.33,675.23 998.52,657.31 1018.7,648.35 1038.88,648.35 1059.07,639.39 1079.25,630.43 1099.43,621.47 1119.62,594.58 1139.8,594.58 1159.98,594.58 1180.17,585.62 1200.35,585.62 1220.53,585.62 1240.72,585.62 1260.9,576.66 1281.08,576.66 1301.27,576.66 1321.45,567.7 1341.63,567.7" fill="none" stroke="#5b9bd5" stroke-width="4.3" stroke-linejoin="round" stroke-linecap="round"/>
<line x1="897.6" y1="551.7" x2="897.6" y2="898" stroke="#000" stroke-width="2.2" stroke-linecap="butt"/>
<line x1="891.6" y1="891.6" x2="1382" y2="891.6" stroke="#000" stroke-width="2.2" stroke-linecap="butt"/>
<line x1="1018.7" y1="891.6" x2="1018.7" y2="647.15" stroke="#000" stroke-width="2.4" stroke-linecap="butt"/>
<line x1="1019.9" y1="648.35" x2="909.6" y2="648.35" stroke="#000" stroke-width="2.2" stroke-linecap="butt"/>
<path d="M899.2,648.35 L913.2,643.05 L911.2,648.35 L913.2,653.65 Z" fill="#000"/>
<line x1="1019.9" y1="766.23" x2="909.6" y2="766.23" stroke="#000" stroke-width="2.2" stroke-linecap="butt"/>
<path d="M899.2,766.23 L913.2,760.93 L911.2,766.23 L913.2,771.53 Z" fill="#000"/>
<text x="878.06" y="926.47" font-size="27.03" textLength="39.08" lengthAdjust="spacingAndGlyphs">0.0</text>
<text x="959.23" y="926.47" font-size="27.03" textLength="38.51" lengthAdjust="spacingAndGlyphs">0.2</text>
<text x="1039.4" y="926.47" font-size="27.03" textLength="39.07" lengthAdjust="spacingAndGlyphs">0.4</text>
<text x="1120.21" y="926.47" font-size="27.03" textLength="39.32" lengthAdjust="spacingAndGlyphs">0.6</text>
<text x="1201.01" y="926.47" font-size="27.03" textLength="39.16" lengthAdjust="spacingAndGlyphs">0.8</text>
<text x="1281.24" y="926.47" font-size="27.03" textLength="39.01" lengthAdjust="spacingAndGlyphs">1.0</text>
<text x="1362.43" y="926.38" font-size="26.89" textLength="38.42" lengthAdjust="spacingAndGlyphs">1.2</text>
<text x="840.22" y="900.4" font-size="27.03" textLength="47.16" lengthAdjust="spacingAndGlyphs">0 %</text>
<text x="823.97" y="835.88" font-size="27.03" textLength="63.42" lengthAdjust="spacingAndGlyphs">20 %</text>
<text x="824.12" y="771.36" font-size="27.03" textLength="63.27" lengthAdjust="spacingAndGlyphs">40 %</text>
<text x="823.87" y="706.84" font-size="27.03" textLength="63.52" lengthAdjust="spacingAndGlyphs">60 %</text>
<text x="824.03" y="642.32" font-size="27.03" textLength="63.36" lengthAdjust="spacingAndGlyphs">80 %</text>
<text x="808.07" y="577.8" font-size="27.03" textLength="79.32" lengthAdjust="spacingAndGlyphs">100 %</text>
<text transform="translate(784.34,894.34) rotate(-90)" x="0" y="0" font-size="30.03" textLength="337.11" lengthAdjust="spacingAndGlyphs">% of recorded fractures</text>
<text x="1021.57" y="972.4" font-size="29.59" textLength="239.15" lengthAdjust="spacingAndGlyphs">Trace length (m)</text>
<line x1="1547" y1="826.1" x2="2041.9" y2="826.1" stroke="#bdbdbd" stroke-width="1.5" stroke-linecap="butt"/>
<line x1="1547" y1="761.4" x2="2041.9" y2="761.4" stroke="#bdbdbd" stroke-width="1.5" stroke-linecap="butt"/>
<line x1="1547" y1="696.7" x2="2041.9" y2="696.7" stroke="#bdbdbd" stroke-width="1.5" stroke-linecap="butt"/>
<line x1="1547" y1="632" x2="2041.9" y2="632" stroke="#bdbdbd" stroke-width="1.5" stroke-linecap="butt"/>
<line x1="1547" y1="567.3" x2="2041.9" y2="567.3" stroke="#bdbdbd" stroke-width="1.5" stroke-linecap="butt"/>
<line x1="1635.65" y1="551.7" x2="1635.65" y2="899.4" stroke="#bdbdbd" stroke-width="1.5" stroke-linecap="butt"/>
<line x1="1716.9" y1="551.7" x2="1716.9" y2="899.4" stroke="#bdbdbd" stroke-width="1.5" stroke-linecap="butt"/>
<line x1="1798.15" y1="551.7" x2="1798.15" y2="899.4" stroke="#bdbdbd" stroke-width="1.5" stroke-linecap="butt"/>
<line x1="1879.4" y1="551.7" x2="1879.4" y2="899.4" stroke="#bdbdbd" stroke-width="1.5" stroke-linecap="butt"/>
<line x1="1960.65" y1="551.7" x2="1960.65" y2="899.4" stroke="#bdbdbd" stroke-width="1.5" stroke-linecap="butt"/>
<line x1="2041.9" y1="551.7" x2="2041.9" y2="899.4" stroke="#bdbdbd" stroke-width="1.5" stroke-linecap="butt"/>
<polyline points="1554.4,890.8 1574.71,809.93 1595.03,735.52 1615.34,729.05 1635.65,690.23 1655.96,654.64 1676.28,654.64 1696.59,651.41 1716.9,648.17 1737.21,638.47 1757.53,632 1777.84,615.83 1798.15,589.94 1818.46,583.47 1838.78,567.3" fill="none" stroke="#b0aeae" stroke-width="1.4" stroke-linejoin="round" stroke-linecap="round"/>
<polyline points="1554.4,890.8 1574.71,826.1 1595.03,767.87 1615.34,741.99 1635.65,712.88 1655.96,680.52 1676.28,670.82 1696.59,670.82 1716.9,670.82 1737.21,657.88 1757.53,644.94 1777.84,632 1798.15,609.36 1818.46,593.18 1838.78,577 1859.09,573.77 1879.4,567.3" fill="none" stroke="#b0aeae" stroke-width="1.4" stroke-linejoin="round" stroke-linecap="round"/>
<polyline points="1554.4,890.8 1574.71,842.28 1595.03,793.75 1615.34,761.4 1635.65,735.52 1655.96,690.23 1676.28,683.76 1696.59,680.52 1716.9,677.29 1737.21,664.35 1757.53,654.64 1777.84,638.47 1798.15,615.83 1818.46,599.65 1838.78,583.47 1859.09,580.24 1879.4,573.77 1899.71,567.3" fill="none" stroke="#b0aeae" stroke-width="1.4" stroke-linejoin="round" stroke-linecap="round"/>
<polyline points="1554.4,890.8 1574.71,851.98 1595.03,809.93 1615.34,774.34 1635.65,745.23 1655.96,696.7 1676.28,693.47 1696.59,690.23 1716.9,687 1737.21,677.29 1757.53,664.35 1777.84,648.17 1798.15,622.29 1818.46,606.12 1838.78,593.18 1859.09,583.47 1879.4,580.24 1899.71,577 1920.03,567.3" fill="none" stroke="#b0aeae" stroke-width="1.4" stroke-linejoin="round" stroke-linecap="round"/>
<polyline points="1554.4,890.8 1574.71,858.45 1595.03,826.1 1615.34,793.75 1635.65,761.4 1655.96,703.17 1676.28,699.93 1696.59,696.7 1716.9,696.7 1737.21,683.76 1757.53,670.82 1777.84,657.88 1798.15,638.47 1818.46,619.06 1838.78,599.65 1859.09,589.94 1879.4,583.47 1899.71,580.24 1920.03,567.3" fill="none" stroke="#b0aeae" stroke-width="1.4" stroke-linejoin="round" stroke-linecap="round"/>
<polyline points="1554.4,890.8 1574.71,864.92 1595.03,832.57 1615.34,803.46 1635.65,777.58 1655.96,706.4 1676.28,703.17 1696.59,703.17 1716.9,703.17 1737.21,690.23 1757.53,680.52 1777.84,664.35 1798.15,657.88 1818.46,632 1838.78,612.59 1859.09,599.65 1879.4,589.94 1899.71,586.71 1920.03,567.3" fill="none" stroke="#b0aeae" stroke-width="1.4" stroke-linejoin="round" stroke-linecap="round"/>
<polyline points="1554.4,890.8 1574.71,874.63 1595.03,848.75 1615.34,809.93 1635.65,793.75 1655.96,745.23 1676.28,738.75 1696.59,735.52 1716.9,735.52 1737.21,722.58 1757.53,703.17 1777.84,690.23 1798.15,680.52 1818.46,657.88 1838.78,632 1859.09,612.59 1879.4,606.12 1899.71,599.65 1920.03,589.94 1940.34,567.3" fill="none" stroke="#b0aeae" stroke-width="1.4" stroke-linejoin="round" stroke-linecap="round"/>
<polyline points="1554.4,890.8 1574.71,881.1 1595.03,868.16 1615.34,848.75 1635.65,809.93 1655.96,800.22 1676.28,793.75 1696.59,780.81 1716.9,774.34 1737.21,761.4 1757.53,745.23 1777.84,719.35 1798.15,703.17 1818.46,690.23 1838.78,664.35 1859.09,638.47 1879.4,625.53 1899.71,612.59 1920.03,599.65 1940.34,567.3" fill="none" stroke="#b0aeae" stroke-width="1.4" stroke-linejoin="round" stroke-linecap="round"/>
<polyline points="1554.4,890.8 1574.71,890.8 1595.03,868.16 1615.34,868.16 1635.65,848.75 1655.96,800.22 1676.28,793.75 1696.59,787.28 1716.9,774.34 1737.21,761.4 1757.53,745.23 1777.84,729.05 1798.15,722.58 1818.46,696.7 1838.78,657.88 1859.09,632 1879.4,615.83 1899.71,606.12 1920.03,589.94 1940.34,567.3" fill="none" stroke="#b0aeae" stroke-width="1.4" stroke-linejoin="round" stroke-linecap="round"/>
<polyline points="1554.4,890.8 1574.71,890.8 1595.03,890.8 1615.34,890.8 1635.65,890.8 1655.96,890.8 1676.28,890.8 1696.59,890.8 1716.9,855.22 1737.21,855.22 1757.53,855.22 1777.84,819.63 1798.15,819.63 1818.46,819.63 1838.78,745.23 1859.09,674.05 1879.4,615.83 1899.71,593.18 1920.03,580.24 1940.34,573.77 1960.65,567.3" fill="none" stroke="#b0aeae" stroke-width="1.4" stroke-linejoin="round" stroke-linecap="round"/>
<polyline points="1554.4,890.8 1574.71,858.45 1595.03,800.22 1615.34,761.4 1635.65,729.05 1655.96,664.35 1676.28,664.35 1696.59,657.88 1716.9,654.64 1737.21,648.17 1757.53,638.47 1777.84,625.53 1798.15,599.65 1818.46,586.71 1838.78,577 1859.09,567.3" fill="none" stroke="#b0aeae" stroke-width="1.4" stroke-linejoin="round" stroke-linecap="round"/>
<polyline points="1554.4,890.8 1574.71,868.16 1595.03,819.63 1615.34,777.58 1635.65,735.52 1655.96,687 1676.28,680.52 1696.59,677.29 1716.9,670.82 1737.21,664.35 1757.53,654.64 1777.84,638.47 1798.15,625.53 1818.46,615.83 1838.78,599.65 1859.09,586.71 1879.4,580.24 1899.71,573.77 1920.03,567.3" fill="none" stroke="#b0aeae" stroke-width="1.4" stroke-linejoin="round" stroke-linecap="round"/>
<polyline points="1554.4,890.8 1574.71,871.39 1595.03,835.81 1615.34,793.75 1635.65,761.4 1655.96,722.58 1676.28,716.11 1696.59,709.64 1716.9,703.17 1737.21,690.23 1757.53,677.29 1777.84,657.88 1798.15,644.94 1818.46,625.53 1838.78,606.12 1859.09,593.18 1879.4,586.71 1899.71,580.24 1920.03,567.3" fill="none" stroke="#b0aeae" stroke-width="1.4" stroke-linejoin="round" stroke-linecap="round"/>
<polyline points="1554.4,890.8 1574.71,890.8 1595.03,890.8 1615.34,890.8 1635.65,863.84 1655.96,809.93 1676.28,809.93 1696.59,809.93 1716.9,809.93 1737.21,809.93 1757.53,782.97 1777.84,729.05 1798.15,702.09 1818.46,702.09 1838.78,675.13 1859.09,675.13 1879.4,621.22 1899.71,621.22 1920.03,594.26 1940.34,594.26 1960.65,594.26 1980.96,567.3" fill="none" stroke="#ed7d31" stroke-width="4.3" stroke-linejoin="round" stroke-linecap="round"/>
<polyline points="1554.4,890.8 1574.71,809.93 1595.03,737.14 1615.34,712.88 1635.65,680.52 1655.96,664.35 1676.28,656.26 1696.59,640.09 1716.9,632 1737.21,615.83 1757.53,615.83 1777.84,599.65 1798.15,591.56 1818.46,583.47 1838.78,575.39 1859.09,575.39 1879.4,567.3 1899.71,567.3 1920.03,567.3 1940.34,567.3 1960.65,567.3 1980.96,567.3 2001.28,567.3" fill="none" stroke="#5b9bd5" stroke-width="4.3" stroke-linejoin="round" stroke-linecap="round"/>
<line x1="1554.4" y1="551.7" x2="1554.4" y2="899.4" stroke="#000" stroke-width="2.2" stroke-linecap="butt"/>
<line x1="1547" y1="892.1" x2="2041.9" y2="892.1" stroke="#000" stroke-width="2.2" stroke-linecap="butt"/>
<line x1="1655.96" y1="892.1" x2="1655.96" y2="663.15" stroke="#000" stroke-width="2.4" stroke-linecap="butt"/>
<line x1="1657.16" y1="664.35" x2="1566.4" y2="664.35" stroke="#000" stroke-width="2.2" stroke-linecap="butt"/>
<path d="M1556,664.35 L1570,659.05 L1568,664.35 L1570,669.65 Z" fill="#000"/>
<line x1="1657.16" y1="809.93" x2="1566.4" y2="809.93" stroke="#000" stroke-width="2.2" stroke-linecap="butt"/>
<path d="M1556,809.93 L1570,804.63 L1568,809.93 L1570,815.23 Z" fill="#000"/>
<text x="1534.86" y="926.77" font-size="27.03" textLength="39.08" lengthAdjust="spacingAndGlyphs">0.0</text>
<text x="1616.55" y="926.77" font-size="27.03" textLength="38.51" lengthAdjust="spacingAndGlyphs">0.2</text>
<text x="1697.23" y="926.77" font-size="27.03" textLength="39.07" lengthAdjust="spacingAndGlyphs">0.4</text>
<text x="1778.56" y="926.77" font-size="27.03" textLength="39.32" lengthAdjust="spacingAndGlyphs">0.6</text>
<text x="1859.88" y="926.77" font-size="27.03" textLength="39.16" lengthAdjust="spacingAndGlyphs">0.8</text>
<text x="1940.62" y="926.77" font-size="27.03" textLength="39.01" lengthAdjust="spacingAndGlyphs">1.0</text>
<text x="2022.33" y="926.68" font-size="26.89" textLength="38.42" lengthAdjust="spacingAndGlyphs">1.2</text>
<text x="1498.22" y="900.9" font-size="27.03" textLength="47.16" lengthAdjust="spacingAndGlyphs">0 %</text>
<text x="1481.97" y="836.2" font-size="27.03" textLength="63.42" lengthAdjust="spacingAndGlyphs">20 %</text>
<text x="1482.12" y="771.5" font-size="27.03" textLength="63.27" lengthAdjust="spacingAndGlyphs">40 %</text>
<text x="1481.87" y="706.8" font-size="27.03" textLength="63.52" lengthAdjust="spacingAndGlyphs">60 %</text>
<text x="1482.03" y="642.1" font-size="27.03" textLength="63.36" lengthAdjust="spacingAndGlyphs">80 %</text>
<text x="1466.07" y="577.4" font-size="27.03" textLength="79.32" lengthAdjust="spacingAndGlyphs">100 %</text>
<text transform="translate(1443.14,894.34) rotate(-90)" x="0" y="0" font-size="30.03" textLength="337.11" lengthAdjust="spacingAndGlyphs">% of recorded fractures</text>
<text x="1679.57" y="972.4" font-size="29.59" textLength="239.15" lengthAdjust="spacingAndGlyphs">Trace length (m)</text>
<line x1="229" y1="1359.16" x2="724" y2="1359.16" stroke="#bdbdbd" stroke-width="1.5" stroke-linecap="butt"/>
<line x1="229" y1="1292.32" x2="724" y2="1292.32" stroke="#bdbdbd" stroke-width="1.5" stroke-linecap="butt"/>
<line x1="229" y1="1225.48" x2="724" y2="1225.48" stroke="#bdbdbd" stroke-width="1.5" stroke-linecap="butt"/>
<line x1="229" y1="1158.64" x2="724" y2="1158.64" stroke="#bdbdbd" stroke-width="1.5" stroke-linecap="butt"/>
<line x1="229" y1="1091.8" x2="724" y2="1091.8" stroke="#bdbdbd" stroke-width="1.5" stroke-linecap="butt"/>
<line x1="336.72" y1="1091.8" x2="336.72" y2="1435.7" stroke="#bdbdbd" stroke-width="1.5" stroke-linecap="butt"/>
<line x1="433.54" y1="1091.8" x2="433.54" y2="1435.7" stroke="#bdbdbd" stroke-width="1.5" stroke-linecap="butt"/>
<line x1="530.36" y1="1091.8" x2="530.36" y2="1435.7" stroke="#bdbdbd" stroke-width="1.5" stroke-linecap="butt"/>
<line x1="627.18" y1="1091.8" x2="627.18" y2="1435.7" stroke="#bdbdbd" stroke-width="1.5" stroke-linecap="butt"/>
<line x1="724" y1="1091.8" x2="724" y2="1435.7" stroke="#bdbdbd" stroke-width="1.5" stroke-linecap="butt"/>
<polyline points="239.9,1426 259.26,1359.16 278.63,1192.06 297.99,1325.74 317.36,1392.58 336.72,1359.16 356.08,1392.58 375.45,1392.58 394.81,1392.58 414.18,1426 433.54,1392.58 452.9,1426 472.27,1392.58 491.63,1392.58 511,1392.58 530.36,1426 549.72,1426 569.09,1392.58 588.45,1426 607.82,1359.16 627.18,1426 646.54,1426" fill="none" stroke="#b0aeae" stroke-width="1.4" stroke-linejoin="round" stroke-linecap="round"/>
<polyline points="239.9,1426 259.26,1325.74 278.63,1359.16 297.99,1192.06 317.36,1392.58 336.72,1258.9 356.08,1359.16 375.45,1392.58 394.81,1325.74 414.18,1392.58 433.54,1392.58 452.9,1392.58 472.27,1392.58 491.63,1359.16 511,1359.16 530.36,1426 549.72,1426 569.09,1426 588.45,1426 607.82,1426 627.18,1359.16 646.54,1426" fill="none" stroke="#b0aeae" stroke-width="1.4" stroke-linejoin="round" stroke-linecap="round"/>
<polyline points="239.9,1426 259.26,1392.58 278.63,1325.74 297.99,1359.16 317.36,1426 336.72,1325.74 356.08,1392.58 375.45,1325.74 394.81,1392.58 414.18,1392.58 433.54,1426 452.9,1392.58 472.27,1392.58 491.63,1392.58 511,1392.58 530.36,1426 549.72,1426 569.09,1426 588.45,1426 607.82,1426 627.18,1392.58 646.54,1426" fill="none" stroke="#b0aeae" stroke-width="1.4" stroke-linejoin="round" stroke-linecap="round"/>
<polyline points="239.9,1426 259.26,1426 278.63,1359.16 297.99,1392.58 317.36,1426 336.72,1359.16 356.08,1392.58 375.45,1392.58 394.81,1392.58 414.18,1426 433.54,1392.58 452.9,1426 472.27,1426 491.63,1392.58 511,1426 530.36,1426 549.72,1426 569.09,1392.58 588.45,1426 607.82,1392.58 627.18,1426 646.54,1426" fill="none" stroke="#b0aeae" stroke-width="1.4" stroke-linejoin="round" stroke-linecap="round"/>
<polyline points="239.9,1426 259.26,1426 278.63,1392.58 297.99,1359.16 317.36,1392.58 336.72,1359.16 356.08,1392.58 375.45,1392.58 394.81,1426 414.18,1392.58 433.54,1426 452.9,1392.58 472.27,1392.58 491.63,1426 511,1392.58 530.36,1426 549.72,1426 569.09,1426 588.45,1426 607.82,1426 627.18,1426" fill="none" stroke="#b0aeae" stroke-width="1.4" stroke-linejoin="round" stroke-linecap="round"/>
<polyline points="239.9,1426 259.26,1392.58 278.63,1426 297.99,1392.58 317.36,1426 336.72,1426 356.08,1325.74 375.45,1359.16 394.81,1392.58 414.18,1392.58 433.54,1426 452.9,1426 472.27,1426 491.63,1392.58 511,1426 530.36,1426 549.72,1392.58 569.09,1426 588.45,1426 607.82,1392.58 627.18,1392.58 646.54,1426" fill="none" stroke="#4472c4" stroke-width="4.3" stroke-linejoin="round" stroke-linecap="round"/>
<polyline points="239.9,1426 259.26,1258.9 278.63,1359.16 297.99,1125.22 317.36,1392.58 336.72,1392.58 356.08,1426 375.45,1392.58 394.81,1359.16 414.18,1426 433.54,1392.58 452.9,1359.16 472.27,1392.58 491.63,1359.16 511,1426 530.36,1426 549.72,1426 569.09,1426 588.45,1426 607.82,1392.58 627.18,1426 646.54,1426" fill="none" stroke="#ff0000" stroke-width="4.3" stroke-linejoin="round" stroke-linecap="round"/>
<line x1="239.9" y1="1091.8" x2="239.9" y2="1435.7" stroke="#000" stroke-width="2.2" stroke-linecap="butt"/>
<line x1="229.9" y1="1427.3" x2="724" y2="1427.3" stroke="#000" stroke-width="2.2" stroke-linecap="butt"/>
<text x="220.36" y="1462.67" font-size="27.03" textLength="39.08" lengthAdjust="spacingAndGlyphs">0.0</text>
<text x="317.46" y="1462.67" font-size="27.03" textLength="38.61" lengthAdjust="spacingAndGlyphs">0.5</text>
<text x="413.51" y="1462.67" font-size="27.03" textLength="39.01" lengthAdjust="spacingAndGlyphs">1.0</text>
<text x="510.63" y="1462.34" font-size="26.95" textLength="38.52" lengthAdjust="spacingAndGlyphs">1.5</text>
<text x="607.41" y="1462.67" font-size="27.03" textLength="39.22" lengthAdjust="spacingAndGlyphs">2.0</text>
<text x="704.51" y="1462.67" font-size="27.03" textLength="38.74" lengthAdjust="spacingAndGlyphs">2.5</text>
<text x="209.51" y="1436.1" font-size="27.03" textLength="14.83" lengthAdjust="spacingAndGlyphs">0</text>
<text x="216" y="1369.35" font-size="26.89" textLength="14.3" lengthAdjust="spacingAndGlyphs">2</text>
<text x="214.95" y="1302.34" font-size="26.81" textLength="14.83" lengthAdjust="spacingAndGlyphs">4</text>
<text x="214.86" y="1235.58" font-size="27.03" textLength="15.35" lengthAdjust="spacingAndGlyphs">6</text>
<text x="215.18" y="1168.74" font-size="27.03" textLength="14.99" lengthAdjust="spacingAndGlyphs">8</text>
<text x="199.15" y="1101.9" font-size="27.03" textLength="30.94" lengthAdjust="spacingAndGlyphs">10</text>
<text transform="translate(137.24,1407.13) rotate(-90)" x="0" y="0" font-size="30.03" textLength="287.96" lengthAdjust="spacingAndGlyphs">Number of fractures</text>
<text transform="translate(175.99,1327.64) rotate(-90)" x="0" y="0" font-size="30.03" textLength="126.82" lengthAdjust="spacingAndGlyphs">recorded</text>
<text x="338.57" y="1504.15" font-size="29.59" textLength="239.15" lengthAdjust="spacingAndGlyphs">Trace length (m)</text>
<line x1="891.8" y1="1389.15" x2="1382" y2="1389.15" stroke="#bdbdbd" stroke-width="1.5" stroke-linecap="butt"/>
<line x1="891.8" y1="1352" x2="1382" y2="1352" stroke="#bdbdbd" stroke-width="1.5" stroke-linecap="butt"/>
<line x1="891.8" y1="1314.85" x2="1382" y2="1314.85" stroke="#bdbdbd" stroke-width="1.5" stroke-linecap="butt"/>
<line x1="891.8" y1="1277.7" x2="1382" y2="1277.7" stroke="#bdbdbd" stroke-width="1.5" stroke-linecap="butt"/>
<line x1="891.8" y1="1240.55" x2="1382" y2="1240.55" stroke="#bdbdbd" stroke-width="1.5" stroke-linecap="butt"/>
<line x1="891.8" y1="1203.4" x2="1382" y2="1203.4" stroke="#bdbdbd" stroke-width="1.5" stroke-linecap="butt"/>
<line x1="891.8" y1="1166.25" x2="1382" y2="1166.25" stroke="#bdbdbd" stroke-width="1.5" stroke-linecap="butt"/>
<line x1="891.8" y1="1129.1" x2="1382" y2="1129.1" stroke="#bdbdbd" stroke-width="1.5" stroke-linecap="butt"/>
<line x1="891.8" y1="1091.95" x2="1382" y2="1091.95" stroke="#bdbdbd" stroke-width="1.5" stroke-linecap="butt"/>
<line x1="994.48" y1="1091.8" x2="994.48" y2="1433.9" stroke="#bdbdbd" stroke-width="1.5" stroke-linecap="butt"/>
<line x1="1091.36" y1="1091.8" x2="1091.36" y2="1433.9" stroke="#bdbdbd" stroke-width="1.5" stroke-linecap="butt"/>
<line x1="1188.24" y1="1091.8" x2="1188.24" y2="1433.9" stroke="#bdbdbd" stroke-width="1.5" stroke-linecap="butt"/>
<line x1="1285.12" y1="1091.8" x2="1285.12" y2="1433.9" stroke="#bdbdbd" stroke-width="1.5" stroke-linecap="butt"/>
<line x1="1382" y1="1091.8" x2="1382" y2="1433.9" stroke="#bdbdbd" stroke-width="1.5" stroke-linecap="butt"/>
<polyline points="897.6,1426.3 916.98,1407.72 936.35,1333.42 955.73,1240.55 975.1,1333.42 994.48,1370.58 1013.86,1407.72 1033.23,1370.58 1052.61,1407.72 1071.98,1426.3 1091.36,1389.15 1110.74,1407.72 1130.11,1407.72 1149.49,1426.3 1168.86,1426.3 1188.24,1426.3 1207.62,1426.3 1226.99,1426.3 1246.37,1407.72 1265.74,1426.3 1285.12,1407.72 1304.5,1407.72 1323.87,1426.3" fill="none" stroke="#b0aeae" stroke-width="1.4" stroke-linejoin="round" stroke-linecap="round"/>
<polyline points="897.6,1426.3 916.98,1389.15 936.35,1333.42 955.73,1277.7 975.1,1370.58 994.48,1389.15 1013.86,1407.72 1033.23,1352 1052.61,1426.3 1071.98,1370.58 1091.36,1426.3 1110.74,1407.72 1130.11,1407.72 1149.49,1407.72 1168.86,1426.3 1188.24,1426.3 1207.62,1407.72 1226.99,1407.72 1246.37,1407.72 1265.74,1407.72 1285.12,1426.3" fill="none" stroke="#b0aeae" stroke-width="1.4" stroke-linejoin="round" stroke-linecap="round"/>
<polyline points="897.6,1426.3 916.98,1407.72 936.35,1370.58 955.73,1296.27 975.1,1389.15 994.48,1352 1013.86,1426.3 1033.23,1407.72 1052.61,1407.72 1071.98,1407.72 1091.36,1407.72 1110.74,1426.3 1130.11,1426.3 1149.49,1407.72 1168.86,1426.3 1188.24,1426.3 1207.62,1426.3 1226.99,1426.3 1246.37,1426.3 1265.74,1407.72 1285.12,1407.72 1304.5,1426.3" fill="none" stroke="#b0aeae" stroke-width="1.4" stroke-linejoin="round" stroke-linecap="round"/>
<polyline points="897.6,1426.3 916.98,1426.3 936.35,1389.15 955.73,1333.42 975.1,1370.58 994.48,1407.72 1013.86,1407.72 1033.23,1370.58 1052.61,1426.3 1071.98,1407.72 1091.36,1426.3 1110.74,1407.72 1130.11,1426.3 1149.49,1407.72 1168.86,1426.3 1188.24,1426.3 1207.62,1407.72 1226.99,1407.72 1246.37,1426.3 1265.74,1426.3 1285.12,1407.72 1304.5,1426.3" fill="none" stroke="#b0aeae" stroke-width="1.4" stroke-linejoin="round" stroke-linecap="round"/>
<polyline points="897.6,1426.3 916.98,1407.72 936.35,1389.15 955.73,1352 975.1,1352 994.48,1407.72 1013.86,1426.3 1033.23,1407.72 1052.61,1407.72 1071.98,1426.3 1091.36,1407.72 1110.74,1426.3 1130.11,1407.72 1149.49,1426.3 1168.86,1426.3 1188.24,1407.72 1207.62,1426.3 1226.99,1426.3 1246.37,1407.72 1265.74,1407.72 1285.12,1426.3" fill="none" stroke="#b0aeae" stroke-width="1.4" stroke-linejoin="round" stroke-linecap="round"/>
<polyline points="897.6,1426.3 916.98,1426.3 936.35,1407.72 955.73,1370.58 975.1,1426.3 994.48,1426.3 1013.86,1389.15 1033.23,1370.58 1052.61,1389.15 1071.98,1407.72 1091.36,1426.3 1110.74,1426.3 1130.11,1389.15 1149.49,1426.3 1168.86,1407.72 1188.24,1426.3 1207.62,1426.3 1226.99,1426.3 1246.37,1426.3 1265.74,1370.58 1285.12,1426.3" fill="none" stroke="#4472c4" stroke-width="4.3" stroke-linejoin="round" stroke-linecap="round"/>
<polyline points="897.6,1426.3 916.98,1370.58 936.35,1129.1 955.73,1221.97 975.1,1240.55 994.48,1389.15 1013.86,1426.3 1033.23,1389.15 1052.61,1407.72 1071.98,1426.3 1091.36,1426.3 1110.74,1407.72 1130.11,1407.72 1149.49,1426.3 1168.86,1426.3 1188.24,1407.72 1207.62,1426.3 1226.99,1426.3 1246.37,1426.3 1265.74,1389.15 1285.12,1426.3 1304.5,1426.3 1323.87,1426.3" fill="none" stroke="#ff0000" stroke-width="4.3" stroke-linejoin="round" stroke-linecap="round"/>
<line x1="897.6" y1="1091.8" x2="897.6" y2="1433.9" stroke="#000" stroke-width="2.2" stroke-linecap="butt"/>
<line x1="891.6" y1="1427.6" x2="1382" y2="1427.6" stroke="#000" stroke-width="2.2" stroke-linecap="butt"/>
<text x="878.06" y="1462.57" font-size="27.03" textLength="39.08" lengthAdjust="spacingAndGlyphs">0.0</text>
<text x="975.22" y="1462.57" font-size="27.03" textLength="38.61" lengthAdjust="spacingAndGlyphs">0.5</text>
<text x="1071.33" y="1462.57" font-size="27.03" textLength="39.01" lengthAdjust="spacingAndGlyphs">1.0</text>
<text x="1168.51" y="1462.24" font-size="26.95" textLength="38.52" lengthAdjust="spacingAndGlyphs">1.5</text>
<text x="1265.35" y="1462.57" font-size="27.03" textLength="39.22" lengthAdjust="spacingAndGlyphs">2.0</text>
<text x="1362.51" y="1462.57" font-size="27.03" textLength="38.74" lengthAdjust="spacingAndGlyphs">2.5</text>
<text x="864.91" y="1436.4" font-size="27.03" textLength="14.83" lengthAdjust="spacingAndGlyphs">0</text>
<text x="864.65" y="1362.02" font-size="26.81" textLength="14.83" lengthAdjust="spacingAndGlyphs">4</text>
<text x="864.88" y="1287.8" font-size="27.03" textLength="14.99" lengthAdjust="spacingAndGlyphs">8</text>
<text x="849.74" y="1213.59" font-size="26.89" textLength="30.33" lengthAdjust="spacingAndGlyphs">12</text>
<text x="848.74" y="1139.2" font-size="27.03" textLength="31.19" lengthAdjust="spacingAndGlyphs">16</text>
<text transform="translate(790.24,1408.93) rotate(-90)" x="0" y="0" font-size="30.03" textLength="287.96" lengthAdjust="spacingAndGlyphs">Number of fractures</text>
<text transform="translate(829.74,1328.44) rotate(-90)" x="0" y="0" font-size="30.03" textLength="126.82" lengthAdjust="spacingAndGlyphs">recorded</text>
<text x="996.57" y="1504.15" font-size="29.59" textLength="239.15" lengthAdjust="spacingAndGlyphs">Trace length (m)</text>
<line x1="229.5" y1="1824.3" x2="724" y2="1824.3" stroke="#bdbdbd" stroke-width="1.5" stroke-linecap="butt"/>
<line x1="229.5" y1="1758.9" x2="724" y2="1758.9" stroke="#bdbdbd" stroke-width="1.5" stroke-linecap="butt"/>
<line x1="229.5" y1="1693.5" x2="724" y2="1693.5" stroke="#bdbdbd" stroke-width="1.5" stroke-linecap="butt"/>
<line x1="229.5" y1="1628.1" x2="724" y2="1628.1" stroke="#bdbdbd" stroke-width="1.5" stroke-linecap="butt"/>
<line x1="229.5" y1="1562.7" x2="724" y2="1562.7" stroke="#bdbdbd" stroke-width="1.5" stroke-linecap="butt"/>
<line x1="336.8" y1="1553.6" x2="336.8" y2="1900.6" stroke="#bdbdbd" stroke-width="1.5" stroke-linecap="butt"/>
<line x1="433.6" y1="1553.6" x2="433.6" y2="1900.6" stroke="#bdbdbd" stroke-width="1.5" stroke-linecap="butt"/>
<line x1="530.4" y1="1553.6" x2="530.4" y2="1900.6" stroke="#bdbdbd" stroke-width="1.5" stroke-linecap="butt"/>
<line x1="627.2" y1="1553.6" x2="627.2" y2="1900.6" stroke="#bdbdbd" stroke-width="1.5" stroke-linecap="butt"/>
<line x1="724" y1="1553.6" x2="724" y2="1900.6" stroke="#bdbdbd" stroke-width="1.5" stroke-linecap="butt"/>
<polyline points="240,1889.7 259.36,1889.7 278.72,1827.57 298.08,1736.01 317.44,1726.2 336.8,1664.07 356.16,1641.18 375.52,1628.1 394.88,1618.29 414.24,1618.29 433.6,1618.29 452.96,1611.75 472.32,1601.94 491.68,1588.86 511.04,1588.86 530.4,1588.86 549.76,1588.86 569.12,1585.59 588.48,1585.59 607.84,1572.51 627.2,1562.7" fill="none" stroke="#b0aeae" stroke-width="1.4" stroke-linejoin="round" stroke-linecap="round"/>
<polyline points="240,1889.7 259.36,1863.54 278.72,1765.44 298.08,1732.74 317.44,1719.66 336.8,1686.96 356.16,1677.15 375.52,1637.91 394.88,1624.83 414.24,1624.83 433.6,1624.83 452.96,1615.02 472.32,1615.02 491.68,1588.86 511.04,1582.32 530.4,1582.32 549.76,1582.32 569.12,1582.32 588.48,1582.32 607.84,1575.78 627.2,1562.7" fill="none" stroke="#b0aeae" stroke-width="1.4" stroke-linejoin="round" stroke-linecap="round"/>
<polyline points="240,1889.7 259.36,1889.7 278.72,1798.14 298.08,1775.25 317.44,1775.25 336.8,1736.01 356.16,1709.85 375.52,1696.77 394.88,1641.18 414.24,1641.18 433.6,1637.91 452.96,1637.91 472.32,1637.91 491.68,1621.56 511.04,1601.94 530.4,1601.94 549.76,1601.94 569.12,1601.94 588.48,1601.94 607.84,1562.7" fill="none" stroke="#b0aeae" stroke-width="1.4" stroke-linejoin="round" stroke-linecap="round"/>
<polyline points="240,1889.7 259.36,1889.7 278.72,1830.84 298.08,1830.84 317.44,1801.41 336.8,1758.9 356.16,1732.74 375.52,1706.58 394.88,1670.61 414.24,1680.42 433.6,1673.88 452.96,1673.88 472.32,1670.61 491.68,1644.45 511.04,1608.48 530.4,1608.48 549.76,1608.48 569.12,1608.48 588.48,1608.48 607.84,1562.7" fill="none" stroke="#b0aeae" stroke-width="1.4" stroke-linejoin="round" stroke-linecap="round"/>
<polyline points="240,1889.7 259.36,1889.7 278.72,1870.08 298.08,1824.3 317.44,1830.84 336.8,1794.87 356.16,1768.71 375.52,1742.55 394.88,1709.85 414.24,1693.5 433.6,1683.69 452.96,1683.69 472.32,1683.69 491.68,1650.99 511.04,1621.56 530.4,1621.56 549.76,1621.56 569.12,1621.56 588.48,1621.56 607.84,1562.7" fill="none" stroke="#b0aeae" stroke-width="1.4" stroke-linejoin="round" stroke-linecap="round"/>
<polyline points="240,1889.7 259.36,1864.55 278.72,1864.55 298.08,1839.39 317.44,1839.39 336.8,1839.39 356.16,1763.93 375.52,1713.62 394.88,1688.47 414.24,1663.32 433.6,1663.32 452.96,1663.32 472.32,1663.32 491.68,1638.16 511.04,1638.16 530.4,1638.16 549.76,1613.01 569.12,1613.01 588.48,1613.01 607.84,1587.85 627.2,1562.7" fill="none" stroke="#4472c4" stroke-width="4.3" stroke-linejoin="round" stroke-linecap="round"/>
<polyline points="240,1889.7 259.36,1831.31 278.72,1807.95 298.08,1702.84 317.44,1691.16 336.8,1679.49 356.16,1679.49 375.52,1667.81 394.88,1644.45 414.24,1644.45 433.6,1632.77 452.96,1609.41 472.32,1597.74 491.68,1574.38 511.04,1574.38 530.4,1574.38 549.76,1574.38 569.12,1574.38 588.48,1574.38 607.84,1562.7 627.2,1562.7 646.56,1562.7" fill="none" stroke="#ff0000" stroke-width="4.3" stroke-linejoin="round" stroke-linecap="round"/>
<line x1="240" y1="1553.6" x2="240" y2="1891" stroke="#000" stroke-width="2.2" stroke-linecap="butt"/>
<line x1="240" y1="1891" x2="724" y2="1891" stroke="#000" stroke-width="2.2" stroke-linecap="butt"/>
<line x1="298.08" y1="1891" x2="298.08" y2="1701.65" stroke="#000" stroke-width="2.4" stroke-linecap="butt"/>
<line x1="299.28" y1="1702.85" x2="252" y2="1702.85" stroke="#000" stroke-width="2.2" stroke-linecap="butt"/>
<path d="M241.6,1702.85 L255.6,1697.55 L253.6,1702.85 L255.6,1708.15 Z" fill="#000"/>
<line x1="299.28" y1="1839.41" x2="252" y2="1839.41" stroke="#000" stroke-width="2.2" stroke-linecap="butt"/>
<path d="M241.6,1839.41 L255.6,1834.11 L253.6,1839.41 L255.6,1844.71 Z" fill="#000"/>
<text x="220.46" y="1928.07" font-size="27.03" textLength="39.08" lengthAdjust="spacingAndGlyphs">0.0</text>
<text x="317.54" y="1928.07" font-size="27.03" textLength="38.61" lengthAdjust="spacingAndGlyphs">0.5</text>
<text x="413.57" y="1928.07" font-size="27.03" textLength="39.01" lengthAdjust="spacingAndGlyphs">1.0</text>
<text x="510.67" y="1927.74" font-size="26.95" textLength="38.52" lengthAdjust="spacingAndGlyphs">1.5</text>
<text x="607.43" y="1928.07" font-size="27.03" textLength="39.22" lengthAdjust="spacingAndGlyphs">2.0</text>
<text x="704.51" y="1928.07" font-size="27.03" textLength="38.74" lengthAdjust="spacingAndGlyphs">2.5</text>
<text x="182.22" y="1894.8" font-size="27.03" textLength="47.16" lengthAdjust="spacingAndGlyphs">0 %</text>
<text x="165.97" y="1830.5" font-size="27.03" textLength="63.42" lengthAdjust="spacingAndGlyphs">20 %</text>
<text x="166.12" y="1766.2" font-size="27.03" textLength="63.27" lengthAdjust="spacingAndGlyphs">40 %</text>
<text x="165.87" y="1701.9" font-size="27.03" textLength="63.52" lengthAdjust="spacingAndGlyphs">60 %</text>
<text x="166.03" y="1637.6" font-size="27.03" textLength="63.36" lengthAdjust="spacingAndGlyphs">80 %</text>
<text x="150.07" y="1573.3" font-size="27.03" textLength="79.32" lengthAdjust="spacingAndGlyphs">100 %</text>
<text transform="translate(136.49,1890.34) rotate(-90)" x="0" y="0" font-size="30.03" textLength="337.11" lengthAdjust="spacingAndGlyphs">% of recorded fractures</text>
<text x="338.57" y="1969.35" font-size="29.59" textLength="239.15" lengthAdjust="spacingAndGlyphs">Trace length (m)</text>
<line x1="888.6" y1="1823.74" x2="1382" y2="1823.74" stroke="#bdbdbd" stroke-width="1.5" stroke-linecap="butt"/>
<line x1="888.6" y1="1758.48" x2="1382" y2="1758.48" stroke="#bdbdbd" stroke-width="1.5" stroke-linecap="butt"/>
<line x1="888.6" y1="1693.22" x2="1382" y2="1693.22" stroke="#bdbdbd" stroke-width="1.5" stroke-linecap="butt"/>
<line x1="888.6" y1="1627.96" x2="1382" y2="1627.96" stroke="#bdbdbd" stroke-width="1.5" stroke-linecap="butt"/>
<line x1="888.6" y1="1562.7" x2="1382" y2="1562.7" stroke="#bdbdbd" stroke-width="1.5" stroke-linecap="butt"/>
<line x1="994.48" y1="1553.6" x2="994.48" y2="1901.1" stroke="#bdbdbd" stroke-width="1.5" stroke-linecap="butt"/>
<line x1="1091.36" y1="1553.6" x2="1091.36" y2="1901.1" stroke="#bdbdbd" stroke-width="1.5" stroke-linecap="butt"/>
<line x1="1188.24" y1="1553.6" x2="1188.24" y2="1901.1" stroke="#bdbdbd" stroke-width="1.5" stroke-linecap="butt"/>
<line x1="1285.12" y1="1553.6" x2="1285.12" y2="1901.1" stroke="#bdbdbd" stroke-width="1.5" stroke-linecap="butt"/>
<line x1="1382" y1="1553.6" x2="1382" y2="1901.1" stroke="#bdbdbd" stroke-width="1.5" stroke-linecap="butt"/>
<polyline points="897.6,1889 916.98,1862.9 936.35,1807.42 955.73,1725.85 975.1,1693.22 994.48,1660.59 1013.86,1650.8 1033.23,1621.43 1052.61,1611.64 1071.98,1601.86 1091.36,1601.86 1110.74,1592.07 1130.11,1592.07 1149.49,1592.07 1168.86,1582.28 1188.24,1582.28 1207.62,1582.28 1226.99,1575.75 1246.37,1575.75 1265.74,1572.49 1285.12,1562.7" fill="none" stroke="#b0aeae" stroke-width="1.4" stroke-linejoin="round" stroke-linecap="round"/>
<polyline points="897.6,1889 916.98,1872.68 936.35,1823.74 955.73,1732.38 975.1,1703.01 994.48,1680.17 1013.86,1680.17 1033.23,1657.33 1052.61,1644.28 1071.98,1644.28 1091.36,1621.43 1110.74,1611.64 1130.11,1598.59 1149.49,1598.59 1168.86,1598.59 1188.24,1585.54 1207.62,1585.54 1226.99,1585.54 1246.37,1585.54 1265.74,1575.75 1285.12,1562.7" fill="none" stroke="#b0aeae" stroke-width="1.4" stroke-linejoin="round" stroke-linecap="round"/>
<polyline points="897.6,1889 916.98,1879.21 936.35,1830.27 955.73,1742.16 975.1,1709.54 994.48,1693.22 1013.86,1686.69 1033.23,1660.59 1052.61,1660.59 1071.98,1627.96 1091.36,1627.96 1110.74,1621.43 1130.11,1601.86 1149.49,1601.86 1168.86,1601.86 1188.24,1601.86 1207.62,1601.86 1226.99,1601.86 1246.37,1595.33 1265.74,1562.7" fill="none" stroke="#b0aeae" stroke-width="1.4" stroke-linejoin="round" stroke-linecap="round"/>
<polyline points="897.6,1889 916.98,1889 936.35,1862.9 955.73,1797.64 975.1,1745.43 994.48,1703.01 1013.86,1703.01 1033.23,1667.12 1052.61,1667.12 1071.98,1660.59 1091.36,1660.59 1110.74,1644.28 1130.11,1627.96 1149.49,1611.64 1168.86,1611.64 1188.24,1611.64 1207.62,1601.86 1226.99,1601.86 1246.37,1598.59 1265.74,1582.28 1285.12,1562.7" fill="none" stroke="#b0aeae" stroke-width="1.4" stroke-linejoin="round" stroke-linecap="round"/>
<polyline points="897.6,1889 916.98,1889 936.35,1889 955.73,1791.11 975.1,1709.54 994.48,1709.54 1013.86,1709.54 1033.23,1693.22 1052.61,1670.38 1071.98,1670.38 1091.36,1660.59 1110.74,1634.49 1130.11,1627.96 1149.49,1618.17 1168.86,1611.64 1188.24,1601.86 1207.62,1595.33 1226.99,1588.8 1246.37,1579.02 1265.74,1562.7" fill="none" stroke="#b0aeae" stroke-width="1.4" stroke-linejoin="round" stroke-linecap="round"/>
<polyline points="897.6,1889 916.98,1889 936.35,1870.87 955.73,1816.49 975.1,1816.49 994.48,1816.49 1013.86,1780.23 1033.23,1725.85 1052.61,1689.59 1071.98,1671.47 1091.36,1671.47 1110.74,1671.47 1130.11,1635.21 1149.49,1635.21 1168.86,1617.08 1188.24,1617.08 1207.62,1617.08 1226.99,1617.08 1246.37,1617.08 1265.74,1562.7" fill="none" stroke="#4472c4" stroke-width="4.3" stroke-linejoin="round" stroke-linecap="round"/>
<polyline points="897.6,1889 916.98,1869.42 936.35,1765.01 955.73,1693.22 975.1,1627.96 994.48,1614.91 1013.86,1614.91 1033.23,1601.86 1052.61,1595.33 1071.98,1595.33 1091.36,1595.33 1110.74,1588.8 1130.11,1582.28 1149.49,1582.28 1168.86,1582.28 1188.24,1575.75 1207.62,1575.75 1226.99,1575.75 1246.37,1575.75 1265.74,1562.7 1285.12,1562.7 1304.5,1562.7 1323.87,1562.7" fill="none" stroke="#ff0000" stroke-width="4.3" stroke-linejoin="round" stroke-linecap="round"/>
<line x1="897.6" y1="1553.6" x2="897.6" y2="1901.1" stroke="#000" stroke-width="2.2" stroke-linecap="butt"/>
<line x1="888.6" y1="1890.3" x2="1382" y2="1890.3" stroke="#000" stroke-width="2.2" stroke-linecap="butt"/>
<line x1="975.1" y1="1890.3" x2="975.1" y2="1626.76" stroke="#000" stroke-width="2.4" stroke-linecap="butt"/>
<line x1="976.3" y1="1627.96" x2="909.6" y2="1627.96" stroke="#000" stroke-width="2.2" stroke-linecap="butt"/>
<path d="M899.2,1627.96 L913.2,1622.66 L911.2,1627.96 L913.2,1633.26 Z" fill="#000"/>
<line x1="976.3" y1="1816.5" x2="909.6" y2="1816.5" stroke="#000" stroke-width="2.2" stroke-linecap="butt"/>
<path d="M899.2,1816.5 L913.2,1811.2 L911.2,1816.5 L913.2,1821.8 Z" fill="#000"/>
<text x="878.06" y="1925.17" font-size="27.03" textLength="39.08" lengthAdjust="spacingAndGlyphs">0.0</text>
<text x="975.22" y="1925.17" font-size="27.03" textLength="38.61" lengthAdjust="spacingAndGlyphs">0.5</text>
<text x="1071.33" y="1925.17" font-size="27.03" textLength="39.01" lengthAdjust="spacingAndGlyphs">1.0</text>
<text x="1168.51" y="1924.84" font-size="26.95" textLength="38.52" lengthAdjust="spacingAndGlyphs">1.5</text>
<text x="1265.35" y="1925.17" font-size="27.03" textLength="39.22" lengthAdjust="spacingAndGlyphs">2.0</text>
<text x="1362.51" y="1925.17" font-size="27.03" textLength="38.74" lengthAdjust="spacingAndGlyphs">2.5</text>
<text x="840.22" y="1899.1" font-size="27.03" textLength="47.16" lengthAdjust="spacingAndGlyphs">0 %</text>
<text x="823.97" y="1833.84" font-size="27.03" textLength="63.42" lengthAdjust="spacingAndGlyphs">20 %</text>
<text x="824.12" y="1768.58" font-size="27.03" textLength="63.27" lengthAdjust="spacingAndGlyphs">40 %</text>
<text x="823.87" y="1703.32" font-size="27.03" textLength="63.52" lengthAdjust="spacingAndGlyphs">60 %</text>
<text x="824.03" y="1638.06" font-size="27.03" textLength="63.36" lengthAdjust="spacingAndGlyphs">80 %</text>
<text x="808.07" y="1572.8" font-size="27.03" textLength="79.32" lengthAdjust="spacingAndGlyphs">100 %</text>
<text transform="translate(778.34,1892.04) rotate(-90)" x="0" y="0" font-size="30.03" textLength="337.11" lengthAdjust="spacingAndGlyphs">% of recorded fractures</text>
<text x="996.57" y="1966.95" font-size="29.59" textLength="239.15" lengthAdjust="spacingAndGlyphs">Trace length (m)</text>
<text x="327.67" y="52.64" font-size="47" font-weight="bold" stroke="#000" stroke-width="0.6" textLength="187.28" lengthAdjust="spacingAndGlyphs">Circle 8</text>
<text x="974.98" y="52.64" font-size="47" font-weight="bold" stroke="#000" stroke-width="0.6" textLength="186.77" lengthAdjust="spacingAndGlyphs">Circle 5</text>
<text x="1654.88" y="52.64" font-size="47" font-weight="bold" stroke="#000" stroke-width="0.6" textLength="186.82" lengthAdjust="spacingAndGlyphs">Circle 1</text>
<text x="326.38" y="1052.94" font-size="47" font-weight="bold" stroke="#000" stroke-width="0.6" textLength="186.68" lengthAdjust="spacingAndGlyphs">Circle 4</text>
<text x="930.38" y="1054.87" font-size="46.91" font-weight="bold" stroke="#000" stroke-width="0.6" textLength="186.76" lengthAdjust="spacingAndGlyphs">Circle 3</text>
<text x="1705.62" y="1042.23" font-size="47.06" font-weight="bold" stroke="#000" stroke-width="0.6" textLength="92.63" lengthAdjust="spacingAndGlyphs">Key</text>
<text transform="translate(59.63,640.58) rotate(-90)" x="0" y="0" font-size="44" font-weight="bold" stroke="#000" stroke-width="0.6" textLength="344.83" lengthAdjust="spacingAndGlyphs">(a) Individual</text>
<text transform="translate(65.25,1656.75) rotate(-90)" x="0" y="0" font-size="47.76" font-weight="bold" stroke="#000" stroke-width="0.6" textLength="247.63" lengthAdjust="spacingAndGlyphs">(b) Group</text>
<text x="1435.82" y="1139.22" font-size="38.97" font-weight="bold" stroke="#000" stroke-width="0.6" font-style="italic" textLength="206.21" lengthAdjust="spacingAndGlyphs">Individual</text>
<text x="1452.98" y="1370.57" font-size="37.77" font-weight="bold" stroke="#000" stroke-width="0.6" font-style="italic" textLength="124.08" lengthAdjust="spacingAndGlyphs">Group</text>
<line x1="1464.6" y1="1194.5" x2="1554.8" y2="1194.5" stroke="#5b9bd5" stroke-width="12.5" stroke-linecap="round"/>
<text x="1623.09" y="1208.12" font-size="38" textLength="231.2" lengthAdjust="spacingAndGlyphs">Participant 3</text>
<line x1="1464.6" y1="1267" x2="1554.8" y2="1267" stroke="#ed7d31" stroke-width="12.5" stroke-linecap="round"/>
<text x="1623.08" y="1277.52" font-size="38" textLength="254.76" lengthAdjust="spacingAndGlyphs">Participant 24</text>
<line x1="1464.6" y1="1427.4" x2="1554.8" y2="1427.4" stroke="#4472c4" stroke-width="12.5" stroke-linecap="round"/>
<text x="1624.46" y="1438.22" font-size="38.4" textLength="169.02" lengthAdjust="spacingAndGlyphs">Group 11</text>
<line x1="1464.6" y1="1498" x2="1554.8" y2="1498" stroke="#ff0000" stroke-width="12.5" stroke-linecap="round"/>
<text x="1624.46" y="1508.42" font-size="38.4" textLength="168.79" lengthAdjust="spacingAndGlyphs">Group 12</text></svg>
</body></html>
